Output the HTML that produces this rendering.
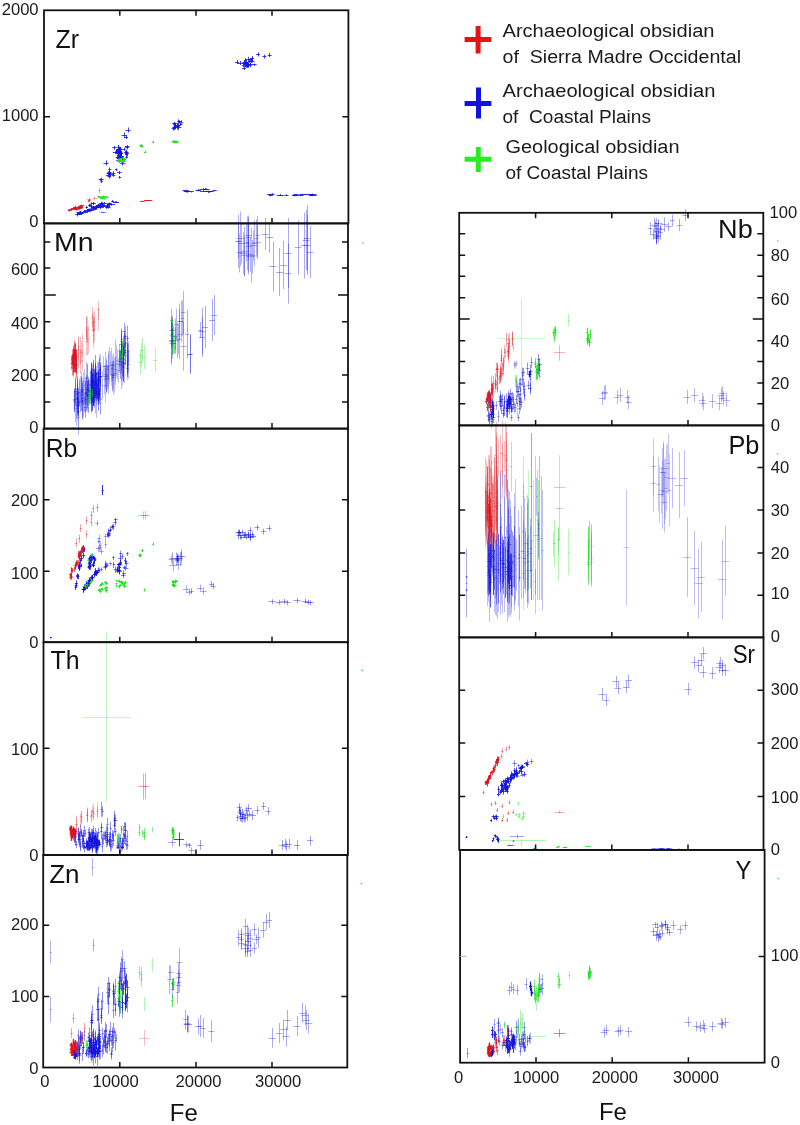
<!DOCTYPE html><html><head><meta charset="utf-8"><style>html,body{margin:0;padding:0;background:#fff;width:800px;height:1125px;overflow:hidden}svg{display:block;will-change:transform}</style></head><body>
<svg width="800" height="1125" viewBox="0 0 800 1125">
<rect width="800" height="1125" fill="#fff"/>
<g fill="none" stroke="#1414dc" stroke-opacity="0.9" stroke-width="0.9"><path d="M90.9 207.5h4.6M93.5 206.4v2.3"/><path d="M98.3 207.5h5.2M100.5 206.4v2.8"/><path d="M77.7 212.5h5.8M80.5 211.1v2.6"/><path d="M78.3 212.5h5.3M80.5 211.1v2.5"/><path d="M82.8 211.5h3.2M84.5 210.6v1.8"/><path d="M85.4 210.5h4.5M87.5 209.2v2.9"/><path d="M94.4 206.5h5.3M97.5 205.6v2.2"/><path d="M88.1 210.5h5.9M91.5 208.7v2.6"/><path d="M88.1 210.5h3.2M89.5 209.1v2.7"/><path d="M90.3 208.5h6.4M93.5 206.6v2.9"/><path d="M75.2 214.5h4.6M77.5 213.4v3.1"/><path d="M91.2 209.5h5.7M94.5 208.4v1.9"/><path d="M76.5 214.5h5.7M79.5 213.3v1.6"/><path d="M84.2 210.5h5.8M87.5 209.7v1.7"/><path d="M96.0 207.5h5.6M98.5 206.5v1.7"/><path d="M101.6 206.5h3.7M103.5 205.9v1.9"/><path d="M113.0 202.5h6.1M116.5 201.2v1.8"/><path d="M91.9 207.5h3.4M93.5 206.3v3.1"/><path d="M83.4 212.5h4.2M85.5 211.3v1.9"/><path d="M79.0 212.5h3.9M80.5 211.6v2.5"/><path d="M87.3 209.5h4.7M89.5 208.6v2.4"/><path d="M108.8 204.5h6.2M111.5 203.0v2.8"/><path d="M84.4 211.5h6.3M87.5 210.9v1.8"/><path d="M113.7 202.5h4.5M115.5 201.4v1.6"/><path d="M76.5 212.5h5.5M79.5 211.5v1.9"/><path d="M107.5 203.5h3.6M109.5 202.6v2.7"/><path d="M76.9 213.5h6.0M79.5 212.2v2.5"/><path d="M87.2 209.5h3.1M88.5 208.8v1.9"/><path d="M93.2 208.5h4.3M95.5 207.3v2.4"/><path d="M77.8 213.5h6.4M81.5 211.8v2.5"/><path d="M102.7 205.5h3.1M104.5 204.8v1.5"/><path d="M111.2 201.5h3.1M112.5 200.0v2.5"/><path d="M92.9 207.5h6.5M96.5 206.4v1.6"/><path d="M95.9 205.5h5.6M98.5 204.0v2.6"/><path d="M106.8 204.5h5.4M109.5 202.8v3.0"/><path d="M105.5 205.5h4.6M107.5 203.5v3.1"/><path d="M98.6 206.5h3.5M100.5 204.8v2.6"/><path d="M99.1 203.5h4.2M101.5 201.7v3.4"/><path d="M106.3 206.5h3.5M107.5 205.2v2.9"/><path d="M98.2 205.5h4.7M100.5 204.3v1.7"/><path d="M102.7 203.5h4.1M104.5 201.9v2.4"/><path d="M89.9 206.5h3.8M91.5 205.2v2.7"/><path d="M107.8 204.5h2.4M109.5 203.2v2.1"/><path d="M101.5 204.5h2.9M102.5 202.4v3.2"/><path d="M100.1 205.5h4.9M102.5 204.1v2.2"/><path d="M100.8 203.5h3.6M102.5 202.5v3.0"/><path d="M107.1 207.5h3.5M108.5 206.1v2.6"/><path d="M92.0 203.5h3.8M93.5 202.1v3.1"/><path d="M104.7 206.5h5.1M107.5 205.5v2.1"/><path d="M88.6 205.5h3.2M90.5 204.3v1.9"/><path d="M94.5 206.5h3.8M96.5 205.1v2.1"/><path d="M105.1 207.5h3.7M106.5 207.1v1.7"/><path d="M85.5 207.5h2.5M86.5 205.9v2.8"/><path d="M98.0 204.5h4.6M100.5 203.7v1.6"/><path d="M88.2 205.5h2.5M89.5 203.7v3.1"/><path d="M90.7 203.5h2.5M91.5 202.4v2.7"/><path d="M95.0 206.5h4.2M97.5 204.6v3.0"/></g>
<g fill="none" stroke="#e0141e" stroke-opacity="0.9" stroke-width="0.9"><path d="M79.6 205.5h4.7M81.5 205.1v1.7"/><path d="M67.6 210.5h3.6M69.5 209.8v1.9"/><path d="M71.8 208.5h5.2M74.5 206.8v2.7"/><path d="M74.1 207.5h3.3M75.5 205.7v3.0"/><path d="M77.3 208.5h5.2M79.5 206.7v3.0"/><path d="M70.7 208.5h5.8M73.5 206.8v3.0"/><path d="M73.1 208.5h5.5M75.5 206.8v2.8"/><path d="M75.1 207.5h6.1M78.5 205.8v3.1"/><path d="M79.0 206.5h4.1M81.5 204.6v3.0"/><path d="M78.5 207.5h4.5M80.5 206.0v2.4"/><path d="M76.8 207.5h5.8M79.5 206.5v1.5"/><path d="M77.7 207.5h5.8M80.5 207.0v1.7"/><path d="M68.1 209.5h5.9M71.5 208.5v2.6"/><path d="M78.4 206.5h3.3M80.5 205.7v1.8"/><path d="M74.0 209.5h5.2M76.5 208.4v2.3"/><path d="M78.0 206.5h4.3M80.5 205.3v2.9"/></g>
<g fill="none" stroke="#e0141e" stroke-opacity="0.5" stroke-width="0.7"><path d="M92.2 198.5h4.8M94.5 196.3v3.8"/><path d="M87.9 200.5h3.0M89.5 199.0v2.9"/><path d="M87.8 200.5h2.5M89.5 198.7v3.8"/><path d="M86.9 199.5h4.6M89.5 197.9v3.0"/><path d="M87.6 201.5h2.6M88.5 199.7v2.9"/></g>
<g fill="none" stroke="#20e020" stroke-opacity="0.9" stroke-width="0.9"><path d="M100.0 198.5h5.0M102.5 197.5v1.9"/><path d="M101.2 196.5h3.6M103.5 195.3v2.8"/><path d="M105.4 197.5h3.3M107.5 196.6v1.8"/><path d="M103.0 198.5h2.8M104.5 197.0v2.7"/><path d="M97.3 196.5h3.0M98.5 195.6v2.6"/><path d="M99.6 197.5h4.1M101.5 196.4v1.6"/><path d="M103.6 196.5h3.8M105.5 195.8v1.9"/><path d="M98.6 197.5h3.6M100.5 196.5v2.1"/></g>
<g fill="none" stroke="#1414dc" stroke-opacity="0.4" stroke-width="0.7"><path d="M99.2 212.5h4.3M101.5 211.7v0.7"/><path d="M100.9 212.5h5.8M103.5 211.5v1.2"/><path d="M101.3 212.5h4.6M103.5 211.8v1.1"/><path d="M98.1 190.5h3.0M99.5 187.7v6.0"/></g>
<g fill="none" stroke="#1414dc" stroke-opacity="0.9" stroke-width="0.9"><path d="M100.4 181.5h2.5M101.5 180.5v2.5"/><path d="M99.9 179.5h3.9M101.5 177.8v3.7"/><path d="M98.6 179.5h3.3M100.5 178.5v2.3"/><path d="M103.5 163.5h5.0M106.5 160.5v5.0"/><path d="M107.4 176.5h3.6M109.5 174.0v4.6"/><path d="M107.4 172.5h4.3M109.5 170.8v2.4"/><path d="M107.9 174.5h5.0M110.5 172.3v5.1"/><path d="M107.1 173.5h4.5M109.5 171.2v3.8"/><path d="M114.9 169.5h2.6M116.5 168.5v2.7"/><path d="M106.5 173.5h3.8M108.5 171.5v4.0"/><path d="M108.3 169.5h3.0M109.5 167.5v4.8"/><path d="M118.6 177.5h2.7M119.5 176.0v2.6"/><path d="M117.1 172.5h4.5M119.5 171.0v3.3"/><path d="M111.8 173.5h3.6M113.5 171.1v4.1"/><path d="M105.8 175.5h4.8M108.5 173.6v2.9"/><path d="M111.7 175.5h3.5M113.5 173.9v2.9"/></g>
<g fill="none" stroke="#1414dc" stroke-opacity="0.95" stroke-width="1.2"><path d="M116.1 151.5h1.8M116.5 149.2v4.9"/><path d="M119.0 153.5h3.6M120.5 151.3v4.2"/><path d="M117.0 152.5h2.9M118.5 149.8v5.2"/><path d="M119.0 149.5h3.7M120.5 147.1v4.5"/><path d="M119.3 154.5h2.7M120.5 151.9v4.9"/><path d="M119.6 153.5h3.4M121.5 151.0v4.5"/><path d="M117.5 153.5h1.9M118.5 151.8v3.4"/><path d="M117.5 147.5h2.5M118.5 145.0v4.2"/><path d="M117.9 149.5h3.8M119.5 147.0v4.3"/><path d="M116.5 152.5h3.0M118.5 151.0v3.9"/><path d="M116.8 155.5h3.1M118.5 153.8v4.4"/><path d="M119.6 155.5h1.8M120.5 153.8v4.1"/><path d="M119.1 149.5h2.6M120.5 148.0v2.5"/><path d="M116.2 150.5h2.0M117.5 148.8v3.1"/></g>
<g fill="none" stroke="#1414dc" stroke-opacity="0.9" stroke-width="0.9"><path d="M124.8 152.5h3.8M126.5 149.5v5.1"/><path d="M119.9 156.5h4.2M121.5 154.6v4.7"/><path d="M112.8 152.5h4.5M115.5 151.3v2.5"/><path d="M125.2 147.5h3.7M127.5 146.3v2.9"/><path d="M119.7 152.5h2.6M120.5 150.2v5.0"/><path d="M117.9 151.5h4.1M119.5 150.1v3.4"/><path d="M116.0 153.5h4.0M118.5 151.6v3.2"/><path d="M122.8 149.5h2.4M124.5 147.7v3.1"/><path d="M112.3 147.5h4.5M114.5 146.0v3.5"/><path d="M125.3 154.5h2.5M126.5 151.6v5.2"/><path d="M124.8 146.5h4.9M127.5 145.0v3.6"/><path d="M119.1 156.5h3.1M120.5 154.8v3.9"/><path d="M125.3 153.5h3.7M127.5 151.4v5.1"/><path d="M124.1 152.5h2.7M125.5 150.6v4.1"/><path d="M120.7 158.5h2.5M122.5 157.0v2.9"/><path d="M116.2 160.5h4.3M118.5 158.7v2.8"/><path d="M118.1 161.5h3.6M119.5 159.4v3.4"/><path d="M120.3 163.5h5.1M122.5 162.3v3.3"/><path d="M117.2 157.5h4.9M119.5 156.1v3.4"/><path d="M122.3 159.5h3.2M123.5 157.9v3.2"/><path d="M121.1 161.5h4.2M123.5 159.5v3.4"/><path d="M116.5 158.5h5.1M119.5 156.9v3.7"/><path d="M125.4 157.5h2.6M126.5 156.1v2.4"/><path d="M120.3 161.5h2.7M121.5 159.9v2.9"/><path d="M115.7 157.5h4.3M117.5 156.1v3.0"/><path d="M122.1 159.5h3.7M123.5 158.5v2.2"/></g>
<g fill="none" stroke="#20e020" stroke-opacity="0.9" stroke-width="0.9"><path d="M118.7 160.5h4.7M121.5 160.2v1.6"/><path d="M117.0 161.5h4.1M119.5 159.9v2.7"/><path d="M118.4 159.5h3.1M119.5 158.3v2.8"/><path d="M118.7 160.5h5.2M121.5 159.6v2.0"/><path d="M120.4 160.5h5.0M122.5 159.9v2.2"/><path d="M118.9 158.5h4.9M121.5 157.6v1.6"/><path d="M116.9 160.5h3.8M118.5 159.0v2.6"/><path d="M119.4 161.5h2.6M120.5 160.2v1.8"/><path d="M122.3 158.5h3.3M123.5 157.0v2.7"/><path d="M122.8 159.5h2.8M124.5 158.1v2.0"/><path d="M123.2 159.5h2.7M124.5 158.1v2.6"/><path d="M120.6 161.5h5.0M123.5 160.2v3.0"/><path d="M120.3 161.5h3.3M121.5 160.2v2.0"/><path d="M119.1 161.5h4.9M121.5 160.8v1.9"/></g>
<g fill="none" stroke="#1414dc" stroke-opacity="0.9" stroke-width="0.9"><path d="M121.5 135.5h5.0M124.5 132.5v5.0"/><path d="M125.5 130.5h5.0M128.5 127.5v5.0"/><path d="M124.0 137.5h4.0M126.5 135.0v4.0"/></g>
<g fill="none" stroke="#20e020" stroke-opacity="0.9" stroke-width="0.9"><path d="M139.7 145.5h2.6M140.5 144.7v2.1"/><path d="M139.6 145.5h3.0M141.5 144.0v2.8"/><path d="M140.2 146.5h3.0M141.5 145.8v1.7"/><path d="M141.3 146.5h2.4M142.5 146.0v1.5"/></g>
<g fill="none" stroke="#20e020" stroke-opacity="0.9" stroke-width="1.0"><path d="M143.8 152.5h2.4M145.5 150.8v2.4"/><path d="M151.8 142.5h2.4M153.5 140.8v2.4"/></g>
<g fill="none" stroke="#1414dc" stroke-opacity="0.9" stroke-width="0.9"><path d="M173.7 125.5h4.0M175.5 122.8v5.1"/><path d="M175.9 127.5h2.6M177.5 125.5v3.9"/><path d="M177.4 121.5h2.6M178.5 119.4v4.5"/><path d="M177.8 121.5h4.2M179.5 120.3v2.8"/><path d="M176.7 126.5h3.1M178.5 124.7v3.0"/><path d="M176.1 125.5h4.5M178.5 123.4v3.5"/><path d="M171.6 128.5h4.3M173.5 126.9v3.8"/><path d="M173.7 126.5h4.4M175.5 124.3v5.0"/><path d="M172.4 127.5h4.3M174.5 125.2v4.8"/><path d="M176.4 127.5h4.9M178.5 125.1v5.1"/><path d="M174.8 125.5h4.4M177.5 122.9v4.6"/><path d="M173.2 124.5h2.8M174.5 122.1v4.5"/><path d="M179.5 124.5h2.9M180.5 122.5v3.0"/><path d="M172.1 123.5h5.1M174.5 122.1v2.6"/></g>
<g fill="none" stroke="#1414dc" stroke-opacity="0.8" stroke-width="0.8"><path d="M178.5 122.5h5.0M181.5 120.0v4.0"/></g>
<g fill="none" stroke="#20e020" stroke-opacity="0.9" stroke-width="0.9"><path d="M172.4 141.5h3.2M174.5 140.4v2.7"/><path d="M171.8 141.5h2.8M173.5 140.4v2.4"/><path d="M176.9 141.5h2.0M177.5 140.7v1.8"/><path d="M171.8 141.5h3.3M173.5 140.8v2.4"/><path d="M172.3 141.5h2.4M173.5 141.0v1.7"/><path d="M175.4 142.5h3.0M176.5 140.7v2.8"/><path d="M173.3 142.5h3.7M175.5 140.5v3.0"/></g>
<g fill="none" stroke="#1414dc" stroke-opacity="0.9" stroke-width="0.9"><path d="M183.6 191.5h6.3M186.5 191.0v1.5"/><path d="M182.6 190.5h6.3M185.5 189.9v1.9"/><path d="M184.7 191.5h4.8M187.5 191.1v1.3"/><path d="M190.0 191.5h3.8M191.5 191.5v1.0"/><path d="M184.9 191.5h5.8M187.5 190.5v1.8"/><path d="M195.5 190.5h5.0M198.5 189.2v1.6"/></g>
<g fill="none" stroke="#e0141e" stroke-opacity="0.9" stroke-width="0.9"><path d="M144.1 200.5h3.5M145.5 200.3v0.7"/><path d="M139.8 201.5h4.8M142.5 200.6v0.8"/><path d="M147.5 200.5h4.9M149.5 200.4v0.6"/><path d="M144.7 200.5h5.9M147.5 200.0v1.0"/><path d="M146.2 200.5h3.9M148.5 200.1v0.9"/></g>
<g fill="none" stroke="#1414dc" stroke-opacity="0.9" stroke-width="0.9"><path d="M242.3 62.5h3.7M244.5 59.8v5.1"/><path d="M248.4 65.5h3.3M250.5 62.7v4.6"/><path d="M246.7 65.5h2.7M248.5 63.1v4.7"/><path d="M243.6 62.5h3.9M245.5 61.4v2.8"/><path d="M251.3 61.5h3.3M252.5 59.9v2.6"/><path d="M244.5 62.5h4.4M246.5 60.6v3.4"/><path d="M249.5 59.5h3.5M251.5 57.9v3.7"/><path d="M252.5 64.5h4.2M254.5 63.6v2.4"/><path d="M246.0 63.5h3.1M247.5 62.0v4.0"/><path d="M245.9 59.5h5.2M248.5 56.8v4.6"/><path d="M243.9 63.5h3.2M245.5 61.6v3.5"/><path d="M247.8 61.5h3.3M249.5 59.3v3.5"/><path d="M249.5 60.5h3.0M251.5 58.6v4.4"/><path d="M245.0 65.5h4.0M246.5 63.4v4.4"/><path d="M245.7 64.5h2.7M246.5 63.4v2.8"/><path d="M241.9 63.5h4.4M244.5 62.3v2.9"/><path d="M245.8 64.5h4.1M247.5 63.5v2.7"/><path d="M244.3 60.5h2.7M245.5 58.3v3.5"/><path d="M242.1 65.5h3.6M243.5 63.5v3.8"/><path d="M248.4 64.5h4.7M250.5 62.6v3.5"/><path d="M235.0 62.5h4.0M237.5 60.0v4.0"/><path d="M238.0 63.5h4.0M240.5 61.0v4.0"/><path d="M256.0 54.5h4.0M258.5 52.4v4.0"/><path d="M262.4 56.5h4.0M264.5 54.6v4.0"/><path d="M267.6 55.5h4.0M269.5 53.0v4.0"/><path d="M250.0 58.5h4.0M252.5 56.0v4.0"/><path d="M245.0 66.5h4.0M247.5 64.0v4.0"/><path d="M242.0 68.5h4.0M244.5 66.0v4.0"/><path d="M196.8 190.5h3.7M198.5 189.4v1.8"/><path d="M204.7 191.5h6.9M208.5 190.9v2.1"/><path d="M203.3 189.5h5.0M205.5 188.2v1.7"/><path d="M204.3 189.5h5.2M206.5 188.4v1.9"/><path d="M207.4 191.5h6.2M210.5 190.8v1.4"/><path d="M207.0 191.5h5.9M209.5 190.9v1.7"/><path d="M199.7 189.5h6.6M203.5 188.1v2.6"/><path d="M199.9 191.5h7.1M203.5 190.4v1.5"/><path d="M212.4 190.5h4.4M214.5 190.2v1.3"/><path d="M276.7 195.5h6.5M280.5 194.5v1.3"/><path d="M308.0 194.5h5.5M310.5 194.2v1.1"/><path d="M309.1 194.5h7.4M312.5 193.6v1.6"/><path d="M291.9 195.5h4.7M294.5 194.1v2.0"/><path d="M310.6 195.5h6.1M313.5 195.0v1.1"/><path d="M302.4 194.5h7.4M306.5 194.0v1.2"/><path d="M292.6 195.5h4.4M294.5 194.7v1.6"/><path d="M270.3 194.5h4.4M272.5 193.2v2.1"/><path d="M308.8 195.5h4.9M311.5 194.4v1.7"/><path d="M299.2 194.5h6.1M302.5 193.9v1.9"/><path d="M267.0 194.5h5.6M269.5 194.0v1.1"/><path d="M284.2 195.5h4.3M286.5 194.3v1.5"/><path d="M278.4 195.5h5.0M280.5 194.3v1.7"/><path d="M268.6 195.5h4.2M270.5 194.3v2.0"/><path d="M293.3 194.5h5.3M296.5 194.1v1.7"/><path d="M296.6 195.5h6.8M300.5 194.7v1.5"/></g>
<g fill="none" stroke="#1414dc" stroke-opacity="0.8" stroke-width="1.0"><path d="M50.0 223.5h3.0M51.5 222.5v1.0"/></g>
<g fill="none" stroke="#1414dc" stroke-opacity="0.35" stroke-width="0.8"><path d="M127.4 364.5h2.5M128.5 350.1v28.7"/><path d="M103.6 366.5h3.4M105.5 351.6v30.5"/><path d="M101.9 366.5h2.4M103.5 356.3v21.1"/><path d="M112.3 375.5h3.4M114.5 358.0v34.6"/><path d="M105.6 375.5h2.9M107.5 364.9v21.4"/><path d="M80.0 391.5h2.6M81.5 376.0v30.1"/><path d="M94.7 393.5h2.7M96.5 380.7v24.8"/><path d="M89.9 391.5h2.5M91.5 378.9v24.7"/><path d="M76.7 411.5h3.0M78.5 393.2v37.3"/><path d="M95.8 374.5h3.2M97.5 362.7v24.4"/><path d="M114.2 357.5h2.0M115.5 339.3v35.8"/><path d="M79.9 390.5h2.8M81.5 371.4v39.0"/><path d="M73.3 401.5h2.4M74.5 391.1v21.3"/><path d="M121.7 367.5h3.3M123.5 353.7v27.9"/><path d="M93.0 384.5h1.9M93.5 365.5v38.0"/><path d="M89.9 387.5h2.7M91.5 367.9v38.7"/><path d="M126.6 354.5h2.3M127.5 335.7v38.5"/><path d="M122.3 363.5h2.2M123.5 344.8v36.8"/><path d="M92.1 382.5h3.4M93.5 362.6v39.9"/><path d="M84.0 393.5h2.9M85.5 381.5v23.8"/><path d="M120.9 365.5h3.1M122.5 352.8v26.3"/><path d="M121.9 363.5h3.4M123.5 346.1v34.3"/><path d="M80.6 391.5h2.6M81.5 380.2v21.6"/><path d="M85.5 378.5h2.4M86.5 361.4v34.2"/><path d="M83.7 394.5h3.0M85.5 377.0v35.8"/><path d="M93.3 389.5h3.0M94.5 370.5v37.7"/><path d="M104.9 376.5h3.5M106.5 359.9v33.3"/><path d="M88.1 394.5h3.0M89.5 383.7v21.8"/><path d="M126.7 351.5h2.8M128.5 341.4v20.9"/><path d="M106.0 378.5h2.3M107.5 365.6v25.0"/><path d="M116.7 370.5h3.2M118.5 358.3v24.9"/><path d="M88.3 391.5h2.8M89.5 380.1v23.7"/><path d="M122.1 364.5h2.6M123.5 346.5v35.0"/><path d="M93.7 384.5h3.5M95.5 369.7v30.0"/><path d="M83.1 385.5h2.4M84.5 369.1v33.2"/><path d="M115.8 364.5h2.7M117.5 349.4v30.1"/><path d="M118.8 361.5h3.5M120.5 350.1v23.5"/><path d="M115.9 360.5h2.1M116.5 344.9v32.2"/><path d="M85.7 381.5h3.2M87.5 363.8v35.8"/><path d="M86.0 395.5h2.7M87.5 382.9v24.4"/><path d="M104.7 374.5h2.9M106.5 357.6v34.3"/><path d="M104.0 376.5h3.4M105.5 364.8v23.6"/><path d="M81.5 401.5h2.6M82.5 387.5v28.8"/><path d="M87.2 390.5h3.2M88.5 380.2v21.5"/><path d="M122.3 355.5h3.2M123.5 342.8v24.8"/><path d="M81.3 392.5h2.4M82.5 381.7v20.8"/><path d="M90.5 382.5h2.3M91.5 366.7v31.8"/><path d="M77.7 392.5h3.3M79.5 381.0v23.4"/><path d="M86.7 395.5h3.3M88.5 377.6v35.7"/><path d="M76.6 406.5h2.5M77.5 393.0v27.3"/><path d="M85.0 393.5h2.7M86.5 376.3v35.2"/><path d="M127.2 358.5h2.1M128.5 343.7v29.1"/><path d="M113.4 373.5h3.4M115.5 362.0v22.8"/><path d="M94.7 385.5h2.3M95.5 371.3v28.5"/><path d="M77.1 417.5h3.2M78.5 400.5v34.7"/><path d="M85.9 395.5h2.3M87.5 380.3v31.0"/><path d="M86.4 377.5h2.5M87.5 364.2v26.7"/><path d="M126.5 362.5h2.9M127.5 351.8v20.8"/><path d="M95.3 382.5h2.4M96.5 365.9v33.9"/><path d="M120.2 362.5h2.9M121.5 343.4v37.7"/><path d="M98.5 372.5h2.5M99.5 354.6v35.6"/><path d="M85.0 399.5h2.4M86.5 387.6v23.7"/><path d="M103.4 379.5h2.2M104.5 365.0v29.4"/><path d="M90.0 391.5h2.6M91.5 371.7v39.9"/><path d="M110.3 374.5h2.5M111.5 363.9v21.5"/><path d="M111.0 368.5h2.5M112.5 355.6v25.5"/><path d="M74.3 402.5h2.5M75.5 383.5v38.5"/><path d="M112.3 374.5h2.3M113.5 361.1v27.2"/><path d="M81.3 400.5h3.2M82.5 382.9v34.5"/><path d="M123.0 359.5h1.8M123.5 346.6v26.4"/><path d="M94.3 395.5h2.4M95.5 377.9v35.4"/><path d="M101.9 385.5h1.9M102.5 371.2v27.9"/><path d="M86.1 394.5h2.9M87.5 384.2v20.6"/><path d="M90.2 388.5h2.6M91.5 373.4v30.9"/><path d="M80.4 394.5h3.1M81.5 377.8v33.3"/><path d="M81.4 390.5h2.2M82.5 377.9v25.6"/><path d="M111.7 365.5h3.4M113.5 353.4v24.5"/><path d="M89.2 392.5h2.4M90.5 380.0v24.3"/><path d="M75.3 408.5h2.8M76.5 390.1v36.2"/><path d="M126.5 360.5h2.3M127.5 343.7v33.4"/><path d="M123.1 363.5h3.0M124.5 343.9v39.1"/><path d="M120.7 372.5h2.2M121.5 356.4v32.7"/><path d="M78.4 392.5h1.9M79.5 378.5v27.7"/><path d="M91.0 389.5h2.7M92.5 377.1v25.6"/><path d="M82.1 389.5h2.1M83.5 372.5v33.3"/><path d="M86.6 395.5h2.0M87.5 381.6v26.8"/><path d="M96.0 387.5h3.1M97.5 372.3v31.1"/><path d="M111.7 377.5h1.8M112.5 363.6v27.8"/><path d="M93.4 391.5h1.9M94.5 376.4v29.9"/><path d="M105.1 378.5h2.6M106.5 365.2v26.5"/><path d="M86.6 396.5h3.4M88.5 380.4v31.3"/><path d="M87.3 390.5h3.0M88.5 379.1v23.7"/><path d="M98.8 369.5h2.5M100.5 354.2v31.5"/><path d="M124.3 350.5h3.2M125.5 334.4v32.5"/><path d="M107.2 369.5h2.3M108.5 351.0v36.6"/><path d="M121.2 366.5h2.5M122.5 347.4v38.2"/><path d="M75.4 404.5h2.4M76.5 391.0v27.2"/><path d="M126.7 364.5h2.1M127.5 352.5v23.8"/><path d="M86.1 389.5h1.8M86.5 374.3v30.9"/><path d="M94.9 380.5h2.2M95.5 365.5v29.9"/><path d="M108.5 365.5h2.8M109.5 346.9v36.6"/><path d="M126.1 356.5h2.4M127.5 343.4v26.9"/><path d="M121.3 359.5h3.1M122.5 342.4v33.7"/><path d="M125.4 368.5h3.3M127.5 356.8v23.2"/><path d="M107.1 366.5h2.5M108.5 353.9v25.7"/><path d="M113.9 369.5h2.8M115.5 357.0v24.7"/><path d="M86.7 389.5h2.7M88.5 377.8v22.5"/><path d="M77.0 402.5h1.9M77.5 391.2v22.0"/><path d="M111.3 375.5h3.2M112.5 361.1v29.6"/><path d="M81.7 398.5h3.4M83.5 380.1v37.4"/><path d="M75.8 399.5h3.2M77.5 385.2v27.8"/><path d="M112.4 377.5h2.3M113.5 360.4v34.3"/><path d="M90.7 382.5h3.3M92.5 364.0v36.6"/><path d="M104.1 385.5h2.6M105.5 368.5v34.1"/><path d="M107.4 379.5h2.0M108.5 365.9v27.5"/><path d="M109.9 362.5h2.2M110.5 351.2v23.7"/><path d="M73.5 388.5h3.5M75.5 377.4v22.7"/><path d="M110.7 364.5h2.6M111.5 348.0v32.6"/><path d="M95.2 400.5h1.9M96.5 383.6v34.3"/><path d="M80.0 389.5h1.9M80.5 376.3v25.7"/></g>
<g fill="none" stroke="#1414dc" stroke-opacity="0.5" stroke-width="0.8"><path d="M81.7 409.5h2.1M82.5 399.9v20.0"/><path d="M72.9 399.5h2.8M74.5 389.7v20.5"/><path d="M75.9 405.5h3.6M77.5 395.9v19.4"/><path d="M77.0 401.5h3.4M78.5 387.7v27.8"/><path d="M77.2 403.5h2.9M78.5 390.5v25.6"/><path d="M74.8 391.5h2.0M75.5 378.3v27.2"/><path d="M76.0 398.5h2.1M77.5 388.8v19.9"/><path d="M73.2 400.5h2.1M74.5 388.7v23.5"/><path d="M75.9 393.5h2.8M77.5 382.8v20.4"/><path d="M76.1 389.5h1.9M77.5 375.8v26.7"/><path d="M76.6 389.5h2.2M77.5 378.8v21.8"/><path d="M84.2 392.5h3.6M85.5 381.5v21.8"/><path d="M77.7 405.5h2.6M78.5 397.4v16.7"/><path d="M79.1 402.5h3.1M80.5 392.8v19.3"/><path d="M83.3 407.5h3.9M85.5 396.4v21.3"/><path d="M82.9 403.5h2.2M84.5 395.8v16.3"/></g>
<g fill="none" stroke="#1414dc" stroke-opacity="0.55" stroke-width="0.9"><path d="M90.9 373.5h2.0M91.5 362.7v21.7"/><path d="M96.8 379.5h2.9M98.5 371.2v16.2"/><path d="M91.4 398.5h1.8M92.5 386.6v24.4"/><path d="M97.2 393.5h3.3M98.5 382.6v22.4"/><path d="M97.1 394.5h3.4M98.5 378.9v31.8"/><path d="M89.8 398.5h2.6M91.5 384.9v27.3"/><path d="M91.8 397.5h1.8M92.5 384.7v25.2"/><path d="M91.2 381.5h2.6M92.5 368.4v26.5"/><path d="M97.3 380.5h3.1M98.5 370.1v21.7"/><path d="M91.8 397.5h2.5M93.5 388.4v17.5"/><path d="M92.6 392.5h2.2M93.5 378.3v27.9"/><path d="M94.9 390.5h2.2M96.5 381.6v17.7"/><path d="M90.2 380.5h2.7M91.5 372.4v16.2"/><path d="M94.3 382.5h2.5M95.5 369.8v24.6"/><path d="M98.7 376.5h3.6M100.5 365.6v21.1"/><path d="M96.4 373.5h3.9M98.5 361.8v22.9"/><path d="M99.3 376.5h2.7M100.5 362.9v27.3"/><path d="M90.3 378.5h3.2M91.5 362.6v31.2"/><path d="M92.3 375.5h2.6M93.5 359.6v31.8"/><path d="M90.3 389.5h2.6M91.5 375.9v26.3"/><path d="M90.5 388.5h3.7M92.5 373.6v29.7"/><path d="M95.4 385.5h3.0M96.5 376.2v17.8"/><path d="M97.8 390.5h2.8M99.5 377.4v26.6"/><path d="M93.5 381.5h2.3M94.5 368.7v25.6"/><path d="M95.4 385.5h1.9M96.5 372.4v26.0"/><path d="M93.4 387.5h3.0M94.5 372.3v30.9"/><path d="M89.7 384.5h3.9M91.5 370.2v27.8"/><path d="M91.5 392.5h3.9M93.5 380.9v22.4"/></g>
<g fill="none" stroke="#1414dc" stroke-opacity="0.8" stroke-width="1.2"><path d="M97.5 377.5h2.6M98.5 372.3v11.3"/><path d="M92.1 394.5h2.1M93.5 386.8v15.1"/><path d="M97.5 393.5h1.9M98.5 385.6v15.5"/><path d="M90.5 395.5h2.2M91.5 390.4v9.3"/><path d="M97.3 385.5h2.0M98.5 378.2v14.5"/><path d="M91.7 381.5h2.1M92.5 377.5v7.8"/><path d="M95.1 393.5h1.9M95.5 388.5v9.2"/><path d="M97.1 394.5h2.3M98.5 388.8v11.8"/><path d="M98.4 393.5h1.4M99.5 388.2v10.3"/><path d="M91.1 375.5h1.7M91.5 368.6v14.5"/></g>
<g fill="none" stroke="#20e020" stroke-opacity="0.6" stroke-width="1.0"><path d="M121.1 347.5h1.7M122.5 341.7v12.3"/><path d="M120.6 355.5h3.0M122.5 350.7v10.4"/><path d="M121.2 349.5h2.5M122.5 341.7v15.3"/><path d="M120.4 349.5h2.6M121.5 342.9v12.6"/><path d="M118.6 351.5h2.0M119.5 344.5v13.8"/><path d="M119.0 355.5h2.6M120.5 350.1v11.1"/><path d="M118.8 357.5h2.2M119.5 351.7v10.8"/><path d="M118.6 361.5h2.5M119.5 355.0v12.1"/></g>
<g fill="none" stroke="#1414dc" stroke-opacity="0.5" stroke-width="0.8"><path d="M118.5 364.5h3.3M120.5 350.9v27.8"/><path d="M120.6 339.5h2.7M121.5 330.3v18.3"/><path d="M123.2 343.5h3.5M124.5 332.4v22.5"/><path d="M121.1 346.5h3.8M123.5 336.0v21.5"/><path d="M124.2 336.5h3.0M125.5 326.4v20.6"/><path d="M125.8 338.5h3.6M127.5 325.2v26.8"/><path d="M121.7 362.5h2.6M123.5 348.6v27.9"/><path d="M123.6 344.5h1.9M124.5 333.2v22.7"/><path d="M119.2 344.5h3.8M121.5 334.0v20.7"/><path d="M124.5 352.5h2.3M125.5 341.6v22.6"/><path d="M118.3 361.5h2.3M119.5 349.8v22.7"/><path d="M120.0 358.5h3.6M121.5 345.6v25.5"/><path d="M122.2 331.5h3.7M124.5 323.0v17.4"/><path d="M120.3 341.5h3.3M121.5 328.5v26.7"/></g>
<g fill="none" stroke="#1414dc" stroke-opacity="0.5" stroke-width="0.9"><path d="M92.3 396.5h3.0M93.5 388.8v16.4"/><path d="M95.9 384.5h2.0M96.5 372.4v23.4"/><path d="M92.2 390.5h2.5M93.5 374.4v31.5"/><path d="M99.7 399.5h2.1M100.5 385.1v29.3"/><path d="M95.6 391.5h3.1M97.5 382.5v17.1"/><path d="M93.8 382.5h2.5M95.5 372.3v19.5"/><path d="M99.9 376.5h2.1M100.5 367.1v18.3"/><path d="M93.6 392.5h1.6M94.5 382.9v18.7"/><path d="M95.8 388.5h2.7M97.5 378.7v20.1"/><path d="M97.6 391.5h2.7M98.5 383.0v17.9"/><path d="M93.7 370.5h2.9M95.5 354.9v31.1"/><path d="M98.8 370.5h2.0M99.5 358.4v24.6"/><path d="M94.5 373.5h2.8M95.5 362.9v20.8"/><path d="M94.4 373.5h2.4M95.5 364.7v18.1"/><path d="M90.0 385.5h1.9M90.5 371.1v28.4"/><path d="M91.9 382.5h1.5M92.5 372.7v19.5"/></g>
<g fill="none" stroke="#20e020" stroke-opacity="0.5" stroke-width="0.9"><path d="M88.9 395.5h2.8M90.5 388.2v14.3"/><path d="M87.9 399.5h2.1M88.5 392.1v15.4"/><path d="M89.0 393.5h3.1M90.5 385.9v14.5"/><path d="M91.3 393.5h1.8M92.5 389.0v8.5"/></g>
<g fill="none" stroke="#e0141e" stroke-opacity="0.55" stroke-width="0.9"><path d="M74.5 366.5h2.9M75.5 361.0v11.3"/><path d="M73.6 349.5h1.8M74.5 343.5v12.4"/><path d="M75.1 364.5h3.1M76.5 359.2v10.4"/><path d="M72.9 350.5h2.0M73.5 345.4v10.9"/><path d="M75.2 356.5h2.4M76.5 349.3v15.2"/><path d="M74.9 371.5h2.6M76.5 364.7v14.0"/><path d="M75.3 358.5h2.1M76.5 350.5v15.9"/><path d="M71.9 357.5h2.3M73.5 350.9v13.8"/><path d="M72.4 359.5h2.4M73.5 354.1v10.4"/><path d="M74.7 350.5h2.5M75.5 343.3v14.4"/><path d="M72.9 354.5h1.7M73.5 347.9v13.0"/><path d="M72.4 360.5h2.0M73.5 352.6v16.0"/><path d="M73.1 349.5h2.3M74.5 340.3v17.7"/><path d="M70.2 363.5h3.3M71.5 356.8v12.9"/><path d="M73.7 357.5h2.1M74.5 350.4v14.9"/><path d="M73.5 356.5h2.5M74.5 349.5v14.1"/><path d="M74.7 350.5h1.7M75.5 344.3v12.0"/><path d="M72.0 368.5h2.3M73.5 359.7v16.9"/><path d="M72.4 355.5h2.8M73.5 350.5v10.7"/><path d="M75.6 368.5h2.2M76.5 362.7v12.5"/><path d="M74.5 367.5h2.7M75.5 362.7v10.5"/><path d="M74.3 350.5h2.7M75.5 342.9v14.4"/><path d="M75.6 364.5h1.6M76.5 355.6v17.5"/><path d="M74.8 362.5h1.6M75.5 355.0v15.9"/><path d="M72.2 365.5h3.4M73.5 356.6v17.3"/><path d="M71.0 367.5h2.4M72.5 359.7v16.0"/><path d="M72.5 359.5h2.4M73.5 354.3v10.9"/><path d="M72.6 366.5h1.7M73.5 361.2v10.9"/><path d="M74.7 364.5h2.6M75.5 359.5v10.9"/><path d="M70.7 356.5h3.3M72.5 349.2v14.5"/></g>
<g fill="none" stroke="#e0141e" stroke-opacity="0.9" stroke-width="1.3"><path d="M74.8 355.5h1.8M75.5 350.9v9.8"/><path d="M74.1 354.5h2.4M75.5 349.6v9.3"/><path d="M71.3 359.5h1.7M72.5 354.4v10.7"/><path d="M74.6 360.5h2.2M75.5 356.5v8.7"/><path d="M74.0 353.5h2.2M75.5 350.3v7.2"/><path d="M73.5 355.5h1.7M74.5 352.1v7.1"/><path d="M72.4 362.5h1.9M73.5 358.3v8.7"/><path d="M73.4 367.5h1.7M74.5 362.1v10.1"/></g>
<g fill="none" stroke="#e0141e" stroke-opacity="0.35" stroke-width="0.8"><path d="M79.3 361.5h1.7M80.5 349.5v24.4"/><path d="M77.6 349.5h2.2M78.5 338.0v22.9"/><path d="M77.7 346.5h2.4M78.5 335.8v20.5"/><path d="M80.4 352.5h2.1M81.5 341.0v22.7"/><path d="M81.9 360.5h1.8M82.5 349.5v21.8"/><path d="M78.0 357.5h1.3M78.5 348.0v19.7"/><path d="M81.1 345.5h2.2M82.5 334.2v22.8"/><path d="M79.8 350.5h1.4M80.5 337.0v27.4"/><path d="M87.3 342.5h1.3M87.5 330.2v25.4"/><path d="M85.6 327.5h1.9M86.5 315.5v23.3"/><path d="M85.3 341.5h2.0M86.5 328.5v26.8"/><path d="M87.5 339.5h1.7M88.5 326.2v27.4"/><path d="M86.7 329.5h2.4M87.5 317.2v24.7"/><path d="M86.1 328.5h1.2M86.5 317.3v22.4"/><path d="M91.7 322.5h1.6M92.5 313.7v17.6"/><path d="M92.4 321.5h1.6M93.5 312.3v19.3"/><path d="M92.6 335.5h1.4M93.5 322.1v26.3"/><path d="M93.4 329.5h2.0M94.5 317.0v24.8"/><path d="M92.1 330.5h2.5M93.5 317.9v25.3"/><path d="M91.2 317.5h2.5M92.5 307.0v20.4"/><path d="M93.2 321.5h1.8M94.5 310.9v20.4"/><path d="M97.4 319.5h1.9M98.5 307.8v22.8"/><path d="M96.9 309.5h2.5M98.5 300.6v17.3"/></g>
<g fill="none" stroke="#20e020" stroke-opacity="0.45" stroke-width="0.8"><path d="M139.0 355.5h4.0M141.5 343.0v24.0"/><path d="M140.0 350.5h4.0M142.5 338.0v24.0"/><path d="M142.0 357.5h4.0M144.5 345.0v24.0"/><path d="M153.0 360.5h4.0M155.5 348.0v24.0"/><path d="M138.0 362.5h4.0M140.5 350.0v24.0"/></g>
<g fill="none" stroke="#20e020" stroke-opacity="0.7" stroke-width="0.9"><path d="M174.7 338.5h2.0M175.5 327.0v22.8"/><path d="M170.5 335.5h2.1M171.5 323.9v23.9"/><path d="M171.6 344.5h1.9M172.5 334.4v20.0"/><path d="M169.8 320.5h3.0M171.5 308.9v23.8"/><path d="M172.7 343.5h3.4M174.5 334.8v18.3"/><path d="M170.3 334.5h2.2M171.5 325.6v18.3"/><path d="M171.7 333.5h2.2M172.5 323.7v20.5"/><path d="M172.1 333.5h2.0M173.5 324.7v17.8"/><path d="M172.3 347.5h3.0M173.5 340.4v13.6"/><path d="M170.9 329.5h3.3M172.5 317.8v23.3"/></g>
<g fill="none" stroke="#1414dc" stroke-opacity="0.4" stroke-width="0.8"><path d="M180.6 346.5h6.2M183.5 321.8v48.9"/><path d="M180.8 312.5h4.7M183.5 291.2v43.0"/><path d="M177.3 334.5h5.1M179.5 308.8v50.5"/><path d="M168.9 330.5h6.4M172.5 315.3v30.7"/><path d="M169.3 343.5h6.4M172.5 328.0v30.5"/><path d="M168.7 341.5h5.4M171.5 321.2v41.4"/><path d="M175.6 339.5h5.8M178.5 324.3v30.0"/><path d="M168.7 340.5h6.4M171.5 316.4v48.3"/><path d="M174.2 324.5h4.2M176.5 308.9v30.3"/><path d="M178.5 321.5h5.0M181.5 300.7v41.6"/><path d="M173.1 336.5h4.6M175.5 318.7v35.2"/><path d="M180.7 318.5h3.5M182.5 300.5v35.6"/><path d="M175.1 340.5h4.2M177.5 322.6v35.2"/><path d="M177.1 321.5h4.8M179.5 303.6v35.6"/></g>
<g fill="none" stroke="#1414dc" stroke-opacity="0.45" stroke-width="0.8"><path d="M185.0 334.5h4.0M187.5 310.0v48.0"/><path d="M188.0 354.5h4.0M190.5 334.0v40.0"/><path d="M198.0 330.5h4.0M200.5 322.0v16.0"/></g>
<g fill="none" stroke="#1414dc" stroke-opacity="0.4" stroke-width="0.8"><path d="M254.0 238.5h4.6M256.5 219.5v37.8"/><path d="M241.0 251.5h6.4M244.5 226.2v50.5"/><path d="M245.5 235.5h6.8M248.5 217.7v36.4"/><path d="M237.9 243.5h7.8M241.5 224.1v39.6"/><path d="M241.0 255.5h7.8M244.5 235.8v40.1"/><path d="M236.5 252.5h6.9M239.5 233.6v38.8"/><path d="M252.0 243.5h4.8M254.5 220.4v45.4"/><path d="M249.8 245.5h7.0M253.5 230.2v30.4"/><path d="M246.0 243.5h3.9M247.5 216.2v53.8"/><path d="M236.5 238.5h7.3M240.5 211.4v55.0"/><path d="M253.7 242.5h7.5M257.5 225.4v33.7"/><path d="M250.5 256.5h4.4M252.5 239.9v33.5"/><path d="M248.6 255.5h6.7M251.5 227.8v54.7"/><path d="M244.9 242.5h4.1M246.5 224.4v37.1"/><path d="M255.5 235.5h4.4M257.5 216.2v39.0"/><path d="M235.9 241.5h4.4M238.5 224.8v33.2"/><path d="M245.6 246.5h6.0M248.5 222.1v49.8"/><path d="M246.6 256.5h3.9M248.5 238.8v35.8"/><path d="M235.3 241.5h6.8M238.5 214.4v54.0"/><path d="M245.6 237.5h5.0M248.5 215.5v44.8"/><path d="M239.6 253.5h7.7M243.5 232.1v42.0"/><path d="M247.5 254.5h5.6M250.5 236.8v35.0"/></g>
<g fill="none" stroke="#1414dc" stroke-opacity="0.45" stroke-width="0.8"><path d="M261.5 234.5h7.0M265.5 218.0v32.0"/><path d="M266.1 237.5h7.0M269.5 222.4v30.0"/><path d="M269.5 266.5h7.0M273.5 241.6v50.0"/><path d="M276.1 272.5h7.0M279.5 248.0v48.0"/><path d="M280.1 265.5h7.0M283.5 241.0v48.0"/><path d="M284.5 253.5h7.0M288.5 218.0v70.0"/><path d="M284.5 273.5h7.0M288.5 243.6v60.0"/><path d="M294.5 247.5h7.0M298.5 220.6v54.0"/><path d="M300.5 245.5h7.0M304.5 212.6v66.0"/><path d="M303.5 238.5h7.0M307.5 205.0v66.0"/><path d="M303.5 245.5h7.0M307.5 215.0v60.0"/><path d="M306.5 252.5h7.0M310.5 226.0v52.0"/><path d="M302.5 240.5h7.0M306.5 210.0v60.0"/><path d="M199.0 331.5h6.0M202.5 308.0v46.0"/><path d="M199.0 337.5h6.0M202.5 317.0v40.0"/><path d="M202.0 327.5h6.0M205.5 306.0v42.0"/><path d="M209.0 320.5h6.0M212.5 299.0v42.0"/><path d="M211.0 315.5h6.0M214.5 295.0v40.0"/><path d="M187.0 354.5h6.0M190.5 335.0v38.0"/></g>
<circle cx="363.0" cy="243.0" r="0.8" fill="#20e020"/>
<g fill="none" stroke="#1414dc" stroke-opacity="0.9" stroke-width="0.9"><path d="M82.2 550.5h2.9M83.5 548.0v4.4"/><path d="M74.7 585.5h2.9M76.5 583.4v3.7"/><path d="M74.6 587.5h2.5M75.5 584.6v5.3"/><path d="M78.4 568.5h2.1M79.5 567.4v3.1"/><path d="M76.1 576.5h2.4M77.5 573.9v5.2"/><path d="M76.1 575.5h2.6M77.5 573.4v4.5"/><path d="M78.0 566.5h3.2M79.5 564.2v3.8"/><path d="M83.3 549.5h1.9M84.5 547.1v4.8"/><path d="M82.3 548.5h2.9M83.5 547.0v3.8"/><path d="M80.2 565.5h2.1M81.5 563.8v3.3"/><path d="M79.7 560.5h2.5M80.5 557.7v6.2"/><path d="M78.6 566.5h2.5M79.5 565.0v3.9"/><path d="M79.1 564.5h1.7M79.5 561.7v4.7"/><path d="M77.6 566.5h2.1M78.5 564.7v4.5"/><path d="M74.8 583.5h3.1M76.5 580.4v5.8"/><path d="M77.1 576.5h2.3M78.5 574.2v4.9"/><path d="M81.8 550.5h2.1M82.5 547.2v5.9"/><path d="M78.6 567.5h2.0M79.5 564.8v5.9"/><path d="M82.3 555.5h2.8M83.5 552.6v5.8"/><path d="M81.0 558.5h1.9M81.5 555.3v5.9"/></g>
<g fill="none" stroke="#e0141e" stroke-opacity="0.75" stroke-width="0.9"><path d="M73.8 569.5h1.6M74.5 566.9v4.8"/><path d="M73.7 565.5h3.2M75.5 562.8v6.3"/><path d="M78.9 558.5h1.8M79.5 554.9v6.4"/><path d="M80.3 551.5h2.8M81.5 548.6v5.7"/><path d="M81.6 547.5h2.9M83.5 545.8v3.2"/><path d="M80.4 550.5h3.1M81.5 547.6v5.0"/><path d="M81.2 548.5h2.3M82.5 546.2v4.2"/><path d="M70.6 577.5h2.0M71.5 574.6v5.3"/><path d="M79.3 553.5h2.1M80.5 551.2v4.0"/><path d="M70.9 570.5h3.3M72.5 568.6v4.2"/><path d="M81.3 549.5h3.3M82.5 546.5v5.2"/><path d="M82.1 547.5h2.1M83.5 545.4v4.8"/><path d="M76.8 562.5h2.5M78.5 560.4v4.7"/><path d="M78.9 555.5h2.6M80.5 553.3v3.8"/><path d="M74.0 567.5h2.2M75.5 564.9v4.8"/><path d="M81.3 548.5h2.3M82.5 546.3v3.8"/><path d="M75.9 562.5h2.3M77.5 560.1v5.4"/><path d="M78.0 553.5h3.3M79.5 550.9v6.2"/><path d="M70.7 568.5h2.5M71.5 567.2v3.7"/><path d="M79.5 554.5h2.6M80.5 552.3v4.0"/><path d="M78.4 555.5h3.0M79.5 552.4v5.3"/><path d="M78.2 556.5h1.8M79.5 553.8v4.7"/><path d="M82.2 548.5h1.7M83.5 546.4v3.9"/><path d="M78.1 556.5h2.3M79.5 553.9v5.0"/><path d="M78.1 555.5h2.8M79.5 552.7v5.2"/><path d="M70.4 575.5h1.7M71.5 573.0v4.7"/><path d="M70.2 576.5h2.4M71.5 575.1v3.4"/><path d="M82.0 548.5h2.6M83.5 546.0v4.1"/><path d="M82.7 548.5h2.0M83.5 545.0v6.0"/><path d="M75.1 562.5h3.2M76.5 560.2v3.9"/><path d="M79.5 552.5h2.2M80.5 550.5v4.5"/><path d="M75.0 564.5h2.3M76.5 562.2v4.1"/><path d="M78.4 554.5h3.2M79.5 551.9v4.6"/><path d="M75.3 564.5h3.0M76.5 562.6v4.4"/><path d="M77.8 556.5h2.9M79.5 553.3v6.3"/><path d="M77.4 556.5h2.7M78.5 555.0v3.8"/><path d="M77.8 553.5h2.2M78.5 550.9v5.5"/><path d="M69.0 577.5h2.0M70.5 574.4v5.1"/><path d="M71.0 571.5h1.9M71.5 568.5v6.2"/><path d="M69.0 574.5h3.1M70.5 572.5v4.4"/></g>
<g fill="none" stroke="#e0141e" stroke-opacity="0.5" stroke-width="0.8"><path d="M74.8 543.5h2.4M76.5 539.0v8.0"/><path d="M78.0 538.5h2.4M79.5 534.7v8.0"/><path d="M79.6 528.5h2.4M80.5 524.0v8.0"/><path d="M85.5 520.5h2.4M86.5 516.5v8.0"/><path d="M85.5 534.5h2.4M86.5 530.4v8.0"/><path d="M90.3 515.5h2.4M91.5 511.0v8.0"/><path d="M90.3 522.5h2.4M91.5 518.0v8.0"/><path d="M91.8 508.5h2.4M93.5 504.8v8.0"/><path d="M96.1 507.5h2.4M97.5 503.7v8.0"/></g>
<g fill="none" stroke="#1414dc" stroke-opacity="0.9" stroke-width="0.9"><path d="M89.4 577.5h3.4M91.5 575.4v5.0"/><path d="M84.8 584.5h2.9M86.5 581.2v6.5"/><path d="M83.4 586.5h3.3M85.5 583.6v6.3"/><path d="M84.6 584.5h2.8M86.5 582.8v3.6"/><path d="M91.7 577.5h2.4M92.5 574.9v5.8"/><path d="M88.3 583.5h2.8M89.5 580.7v4.9"/><path d="M94.1 571.5h2.5M95.5 568.2v5.7"/><path d="M82.1 589.5h3.2M83.5 586.8v5.9"/><path d="M86.9 583.5h2.9M88.5 582.2v3.1"/><path d="M86.9 582.5h2.5M88.5 579.7v6.1"/><path d="M95.3 573.5h2.0M96.5 571.8v3.3"/><path d="M92.9 574.5h2.8M94.5 572.1v5.4"/><path d="M82.9 588.5h2.2M84.5 585.3v5.5"/><path d="M91.0 578.5h2.3M92.5 576.3v4.7"/><path d="M84.6 584.5h3.0M86.5 582.2v5.1"/><path d="M95.7 572.5h3.1M97.5 570.7v3.5"/><path d="M95.0 573.5h2.7M96.5 570.1v5.9"/><path d="M94.6 572.5h2.5M95.5 570.1v5.5"/><path d="M86.2 584.5h2.3M87.5 582.8v4.3"/><path d="M84.6 585.5h3.3M86.5 584.0v3.2"/><path d="M93.0 574.5h2.0M94.5 572.7v3.2"/><path d="M87.3 583.5h3.6M89.5 581.8v3.2"/><path d="M84.6 588.5h2.2M85.5 586.3v4.0"/><path d="M90.9 577.5h2.8M92.5 575.1v4.0"/><path d="M89.4 580.5h2.3M90.5 578.3v4.0"/><path d="M85.9 585.5h3.0M87.5 583.3v3.9"/><path d="M83.7 587.5h2.9M85.5 585.1v4.1"/><path d="M94.1 572.5h3.2M95.5 569.9v5.4"/><path d="M88.0 581.5h2.9M89.5 578.9v4.6"/><path d="M87.3 580.5h3.7M89.5 578.1v3.8"/><path d="M81.5 589.5h3.5M83.5 587.2v5.2"/><path d="M85.9 586.5h3.6M87.5 583.6v5.4"/></g>
<g fill="none" stroke="#1414dc" stroke-opacity="0.6" stroke-width="0.8"><path d="M104.7 564.5h2.6M106.5 562.3v4.9"/><path d="M108.5 563.5h3.6M110.5 562.3v3.3"/><path d="M100.0 569.5h2.9M101.5 567.3v4.1"/><path d="M104.8 563.5h2.0M105.5 560.7v6.5"/><path d="M96.4 572.5h3.1M97.5 570.5v3.4"/><path d="M103.5 566.5h3.4M105.5 564.0v5.1"/><path d="M103.3 567.5h3.7M105.5 564.7v5.4"/><path d="M97.9 570.5h2.5M99.5 567.6v5.0"/><path d="M104.3 566.5h3.2M105.5 564.4v3.8"/><path d="M96.4 570.5h3.8M98.5 567.9v5.0"/><path d="M96.4 570.5h3.5M98.5 567.6v5.5"/><path d="M105.4 565.5h3.5M107.5 563.4v3.5"/></g>
<g fill="none" stroke="#1414dc" stroke-opacity="0.9" stroke-width="0.9"><path d="M89.0 557.5h2.1M90.5 554.8v4.7"/><path d="M93.8 560.5h2.3M94.5 557.6v5.9"/><path d="M88.4 564.5h3.1M89.5 561.1v6.3"/><path d="M87.8 563.5h2.6M89.5 560.4v5.9"/><path d="M89.3 565.5h2.2M90.5 562.8v4.7"/><path d="M93.8 559.5h2.4M94.5 556.5v6.2"/><path d="M92.0 557.5h2.2M93.5 555.7v3.8"/><path d="M89.0 566.5h3.3M90.5 563.5v6.4"/><path d="M91.8 564.5h2.6M93.5 561.4v5.5"/><path d="M90.5 557.5h2.8M91.5 555.3v4.3"/><path d="M91.3 557.5h1.9M92.5 554.2v6.4"/><path d="M90.1 560.5h2.1M91.5 558.1v5.1"/><path d="M93.2 558.5h2.9M94.5 556.5v4.7"/><path d="M92.6 563.5h2.3M93.5 561.6v3.7"/><path d="M91.6 557.5h3.6M93.5 556.2v3.1"/><path d="M88.2 562.5h3.6M90.5 559.7v5.2"/><path d="M91.9 565.5h3.3M93.5 564.1v3.2"/><path d="M93.0 558.5h2.1M94.5 557.0v3.1"/><path d="M87.7 567.5h2.6M88.5 565.4v3.3"/><path d="M87.6 566.5h3.1M89.5 563.6v6.2"/><path d="M87.8 558.5h2.4M89.5 556.3v3.7"/><path d="M87.9 559.5h3.1M89.5 557.4v3.6"/></g>
<g fill="none" stroke="#1414dc" stroke-opacity="0.9" stroke-width="1.0"><path d="M101.7 490.5h2.0M102.5 485.0v10.0"/></g>
<g fill="none" stroke="#1414dc" stroke-opacity="0.7" stroke-width="0.8"><path d="M106.8 534.5h2.1M107.5 532.1v5.0"/><path d="M109.9 529.5h1.9M110.5 526.8v5.2"/><path d="M106.8 534.5h3.7M108.5 531.8v5.1"/><path d="M107.9 530.5h2.1M108.5 528.4v4.3"/><path d="M110.5 526.5h3.7M112.5 524.6v3.1"/><path d="M107.4 533.5h3.4M109.5 531.0v5.4"/><path d="M113.3 522.5h3.6M115.5 519.5v5.7"/><path d="M107.1 535.5h3.6M108.5 533.4v4.3"/><path d="M111.9 526.5h3.0M113.5 523.9v6.1"/><path d="M114.0 519.5h3.8M115.5 518.0v3.5"/><path d="M108.4 530.5h3.4M110.5 529.0v3.2"/><path d="M110.7 527.5h3.1M112.5 525.5v3.7"/></g>
<g fill="none" stroke="#1414dc" stroke-opacity="0.45" stroke-width="0.8"><path d="M98.4 551.5h5.2M101.5 548.5v5.5"/><path d="M98.8 545.5h2.9M100.5 541.7v8.4"/><path d="M97.1 541.5h3.4M98.5 539.3v4.2"/><path d="M95.3 523.5h3.3M97.5 520.3v5.5"/><path d="M104.6 544.5h2.6M105.5 540.2v7.7"/><path d="M96.9 538.5h4.4M99.5 534.7v8.4"/><path d="M103.8 536.5h3.3M105.5 533.8v6.1"/><path d="M98.0 547.5h3.7M99.5 543.7v7.6"/><path d="M95.8 548.5h5.1M98.5 546.2v5.2"/></g>
<g fill="none" stroke="#1414dc" stroke-opacity="0.7" stroke-width="0.8"><path d="M121.0 556.5h2.5M122.5 553.6v5.3"/><path d="M113.7 569.5h4.0M115.5 566.5v6.4"/><path d="M126.2 553.5h2.7M127.5 552.0v3.8"/><path d="M117.7 571.5h4.3M119.5 568.9v5.9"/><path d="M124.5 561.5h2.7M125.5 558.1v6.3"/><path d="M112.1 557.5h2.5M113.5 555.8v4.3"/><path d="M112.6 564.5h2.8M113.5 561.9v6.1"/><path d="M124.0 560.5h2.7M125.5 557.4v6.4"/><path d="M122.0 573.5h4.0M123.5 570.3v6.0"/><path d="M123.4 568.5h5.1M125.5 566.0v4.8"/><path d="M122.8 567.5h3.7M124.5 565.5v3.6"/><path d="M118.1 558.5h4.1M120.5 555.8v5.7"/><path d="M119.3 553.5h2.8M120.5 550.8v6.1"/><path d="M120.9 575.5h4.6M123.5 573.4v4.8"/><path d="M117.5 564.5h4.7M119.5 561.8v5.3"/><path d="M125.1 563.5h3.5M126.5 561.1v5.6"/></g>
<g fill="none" stroke="#1414dc" stroke-opacity="0.9" stroke-width="0.9"><path d="M118.2 571.5h1.9M119.5 569.5v4.4"/><path d="M116.9 568.5h2.1M117.5 566.5v3.5"/><path d="M117.7 567.5h3.4M119.5 565.2v4.6"/><path d="M117.0 564.5h3.7M118.5 563.1v3.7"/><path d="M116.2 570.5h2.8M117.5 568.7v3.5"/><path d="M116.5 570.5h3.4M118.5 568.9v3.2"/><path d="M119.1 563.5h2.7M120.5 560.7v5.1"/><path d="M116.6 571.5h2.5M117.5 569.3v3.5"/><path d="M120.0 562.5h1.9M120.5 559.5v5.3"/><path d="M117.9 570.5h3.5M119.5 568.8v3.7"/></g>
<g fill="none" stroke="#20e020" stroke-opacity="0.9" stroke-width="0.9"><path d="M84.4 585.5h2.1M85.5 584.3v3.2"/><path d="M85.6 584.5h3.2M87.5 583.3v3.3"/><path d="M88.8 582.5h3.2M90.5 581.3v3.0"/><path d="M84.3 586.5h2.6M85.5 584.7v3.3"/><path d="M91.8 580.5h2.1M92.5 579.9v1.9"/><path d="M90.7 580.5h2.3M91.5 579.0v2.8"/><path d="M90.6 581.5h1.7M91.5 580.2v1.9"/><path d="M104.8 587.5h3.2M106.5 586.4v2.6"/><path d="M100.0 584.5h3.8M101.5 582.7v3.1"/><path d="M98.1 589.5h3.1M99.5 588.3v3.1"/><path d="M104.0 588.5h3.6M105.5 586.9v3.8"/><path d="M101.0 589.5h2.6M102.5 587.9v2.7"/><path d="M100.6 589.5h2.5M101.5 588.0v2.5"/><path d="M104.9 590.5h3.2M106.5 589.1v3.6"/><path d="M100.9 589.5h2.3M102.5 588.0v2.5"/><path d="M97.5 590.5h3.7M99.5 589.6v2.4"/><path d="M101.0 583.5h2.1M102.5 582.1v3.1"/><path d="M105.8 583.5h2.3M106.5 581.6v3.4"/><path d="M99.3 591.5h2.5M100.5 590.3v2.8"/><path d="M99.0 585.5h2.7M100.5 584.3v2.4"/><path d="M103.8 582.5h3.1M105.5 581.0v3.5"/><path d="M117.9 581.5h2.1M118.5 580.3v2.0"/><path d="M122.9 584.5h1.8M123.5 582.7v2.8"/><path d="M120.8 582.5h1.9M121.5 580.8v2.7"/><path d="M117.9 586.5h2.6M119.5 584.6v3.7"/><path d="M123.6 583.5h2.1M124.5 582.1v3.5"/><path d="M115.4 583.5h2.0M116.5 582.7v2.0"/><path d="M117.9 581.5h3.9M119.5 579.5v3.0"/><path d="M123.2 586.5h3.4M124.5 584.8v3.2"/><path d="M118.9 585.5h3.2M120.5 584.1v2.1"/><path d="M119.6 582.5h2.9M121.5 581.1v3.3"/><path d="M121.0 583.5h3.5M122.5 582.1v3.5"/><path d="M115.5 580.5h1.9M116.5 579.9v2.1"/><path d="M124.2 582.5h2.7M125.5 580.7v2.8"/><path d="M119.7 581.5h3.4M121.5 580.6v2.5"/><path d="M123.5 585.5h1.8M124.5 583.9v3.0"/><path d="M115.5 585.5h1.9M116.5 584.7v2.4"/></g>
<g fill="none" stroke="#20e020" stroke-opacity="0.9" stroke-width="1.0"><path d="M87.3 560.5h2.0M88.5 558.5v3.0"/><path d="M91.0 554.5h2.0M92.5 553.2v3.0"/></g>
<g fill="none" stroke="#20e020" stroke-opacity="1" stroke-width="1.2"><path d="M138.9 555.5h2.6M140.5 554.6v2.1"/><path d="M138.7 554.5h2.2M139.5 554.0v1.9"/><path d="M139.2 554.5h1.7M140.5 553.8v1.8"/><path d="M139.1 555.5h1.4M139.5 554.1v3.1"/></g>
<g fill="none" stroke="#20e020" stroke-opacity="0.9" stroke-width="1.0"><path d="M141.2 550.5h1.6M142.5 549.0v3.0"/><path d="M152.2 544.5h1.6M153.5 542.5v3.0"/><path d="M143.7 590.5h1.6M144.5 588.5v3.0"/></g>
<g fill="none" stroke="#e0141e" stroke-opacity="0.4" stroke-width="0.8"><path d="M138.0 515.5h10.0M143.5 511.5v8.0"/><path d="M141.0 515.5h8.0M145.5 511.0v8.0"/></g>
<g fill="none" stroke="#1414dc" stroke-opacity="0.45" stroke-width="0.8"><path d="M177.7 558.5h5.0M180.5 551.9v14.1"/><path d="M177.8 556.5h7.9M181.5 549.3v14.1"/><path d="M178.9 556.5h4.8M181.5 552.4v8.6"/><path d="M169.2 565.5h8.7M173.5 560.1v11.2"/><path d="M169.7 558.5h5.4M172.5 552.3v12.6"/><path d="M175.7 564.5h6.3M178.5 558.6v11.0"/><path d="M172.9 558.5h6.4M176.5 552.3v13.0"/><path d="M175.3 558.5h7.0M178.5 554.0v8.4"/><path d="M168.5 559.5h6.0M171.5 555.3v7.5"/></g>
<g fill="none" stroke="#1414dc" stroke-opacity="0.6" stroke-width="0.8"><path d="M174.7 559.5h5.0M177.5 555.8v7.1"/><path d="M175.4 558.5h3.4M177.5 556.1v4.9"/><path d="M175.0 560.5h4.7M177.5 558.1v5.2"/><path d="M176.3 556.5h2.4M177.5 553.4v6.8"/></g>
<g fill="none" stroke="#20e020" stroke-opacity="1" stroke-width="1.1"><path d="M172.0 584.5h2.8M173.5 583.4v2.0"/><path d="M171.9 581.5h2.7M173.5 580.2v3.3"/><path d="M172.7 582.5h2.0M173.5 581.3v2.8"/><path d="M174.3 581.5h2.8M175.5 579.7v3.7"/><path d="M173.4 585.5h3.0M174.5 584.7v2.2"/><path d="M175.1 581.5h2.8M176.5 580.2v2.1"/><path d="M172.3 582.5h2.8M173.5 581.0v3.2"/><path d="M171.9 585.5h2.9M173.5 584.0v2.9"/><path d="M171.7 581.5h1.9M172.5 580.4v2.7"/></g>
<g fill="none" stroke="#1414dc" stroke-opacity="0.45" stroke-width="0.8"><path d="M183.0 589.5h6.0M186.5 585.5v7.0"/><path d="M186.0 592.5h6.0M189.5 588.5v7.0"/><path d="M197.0 588.5h6.0M200.5 584.5v7.0"/><path d="M200.6 591.5h6.0M203.5 587.5v7.0"/></g>
<g fill="none" stroke="#1414dc" stroke-opacity="0.6" stroke-width="0.8"><path d="M250.1 536.5h5.9M253.5 534.2v3.9"/><path d="M239.8 537.5h4.2M241.5 534.8v4.6"/><path d="M236.8 532.5h4.4M239.5 529.4v5.9"/><path d="M242.4 535.5h4.0M244.5 534.1v3.7"/><path d="M246.4 534.5h4.7M248.5 531.8v5.2"/><path d="M240.3 532.5h4.0M242.5 529.9v4.9"/><path d="M237.5 532.5h4.7M239.5 530.4v3.7"/><path d="M249.8 534.5h4.6M252.5 531.6v5.8"/><path d="M235.5 532.5h5.7M238.5 529.7v5.9"/><path d="M243.1 534.5h5.6M245.5 531.5v5.7"/><path d="M247.6 537.5h6.1M250.5 534.5v6.6"/><path d="M246.3 535.5h4.9M248.5 532.2v6.0"/><path d="M243.4 537.5h6.0M246.5 535.8v3.8"/><path d="M247.5 536.5h5.1M250.5 532.6v7.4"/><path d="M236.6 535.5h4.3M238.5 531.5v7.6"/><path d="M238.9 535.5h3.5M240.5 532.6v6.8"/></g>
<g fill="none" stroke="#1414dc" stroke-opacity="0.55" stroke-width="0.8"><path d="M254.5 527.5h5.0M257.5 524.6v6.0"/><path d="M261.1 531.5h5.0M263.5 528.6v6.0"/><path d="M266.5 528.5h5.0M269.5 525.0v6.0"/><path d="M241.5 535.5h5.0M244.5 532.0v6.0"/><path d="M247.5 530.5h5.0M250.5 527.0v6.0"/></g>
<g fill="none" stroke="#1414dc" stroke-opacity="0.5" stroke-width="0.8"><path d="M209.1 584.5h5.0M211.5 581.0v6.0"/><path d="M188.5 591.5h5.0M191.5 588.0v6.0"/><path d="M210.5 586.5h5.0M213.5 583.0v6.0"/></g>
<g fill="none" stroke="#1414dc" stroke-opacity="0.55" stroke-width="0.8"><path d="M268.5 601.5h7.0M272.5 599.2v5.0"/><path d="M275.5 602.5h7.0M279.5 599.8v5.0"/><path d="M280.5 601.5h7.0M284.5 598.8v5.0"/><path d="M283.5 602.5h7.0M287.5 600.2v5.0"/><path d="M293.5 600.5h7.0M297.5 598.0v5.0"/><path d="M301.5 601.5h7.0M305.5 598.6v5.0"/><path d="M304.5 602.5h7.0M308.5 599.8v5.0"/><path d="M306.5 602.5h7.0M310.5 600.2v5.0"/></g>
<g fill="none" stroke="#1414dc" stroke-opacity="0.8" stroke-width="1.0"><path d="M49.8 637.5h2.0M50.5 636.9v1.6"/></g>
<g fill="none" stroke="#20e020" stroke-opacity="0.35" stroke-width="0.8"><path d="M82.6 717.5h48.0M106.5 717.2v0.0"/><path d="M106.6 717.5h0.0M106.5 632.2v170.0"/></g>
<g fill="none" stroke="#e0141e" stroke-opacity="0.5" stroke-width="0.8"><path d="M138.2 786.5h11.0M143.5 773.6v26.0"/><path d="M144.5 786.5h2.0M145.5 773.0v26.0"/></g>
<g fill="none" stroke="#1414dc" stroke-opacity="0.5" stroke-width="0.9"><path d="M77.5 834.5h2.0M78.5 828.1v13.7"/><path d="M76.2 833.5h3.8M78.5 827.3v12.2"/><path d="M72.0 836.5h2.5M73.5 831.9v8.8"/><path d="M78.2 839.5h2.1M79.5 833.8v11.6"/><path d="M73.9 837.5h2.0M74.5 832.4v10.7"/><path d="M74.5 836.5h2.7M75.5 829.9v12.8"/><path d="M77.7 839.5h3.7M79.5 832.2v14.6"/><path d="M73.2 834.5h2.8M74.5 828.1v13.1"/><path d="M81.1 835.5h3.9M83.5 830.7v10.5"/><path d="M79.0 831.5h2.2M80.5 824.6v13.8"/><path d="M83.1 830.5h2.3M84.5 825.7v9.9"/><path d="M82.8 845.5h2.4M83.5 840.9v8.8"/><path d="M83.2 846.5h3.3M84.5 840.6v11.8"/><path d="M82.3 843.5h2.9M83.5 838.0v10.2"/><path d="M81.4 841.5h2.5M82.5 834.7v13.1"/><path d="M79.6 846.5h2.2M80.5 841.6v9.8"/><path d="M95.8 847.5h3.7M97.5 839.8v14.7"/><path d="M95.1 845.5h3.0M96.5 840.8v8.6"/><path d="M93.8 845.5h3.6M95.5 841.2v8.3"/><path d="M88.1 843.5h2.8M89.5 836.1v15.1"/><path d="M96.3 839.5h3.2M97.5 832.5v13.3"/><path d="M93.7 837.5h3.1M95.5 833.6v8.5"/><path d="M95.4 843.5h3.5M97.5 837.7v11.7"/><path d="M89.2 839.5h3.2M90.5 833.0v12.4"/><path d="M88.7 832.5h2.6M89.5 827.1v10.0"/><path d="M89.7 835.5h2.7M91.5 828.8v13.6"/><path d="M96.3 842.5h1.8M97.5 835.4v14.9"/><path d="M92.9 843.5h3.1M94.5 838.3v10.8"/><path d="M90.5 833.5h3.2M92.5 828.9v8.4"/><path d="M93.5 846.5h3.2M95.5 840.2v12.8"/><path d="M94.5 847.5h3.5M96.5 839.4v15.9"/><path d="M91.6 832.5h3.1M93.5 825.7v13.1"/><path d="M95.5 841.5h2.6M96.5 837.8v8.0"/><path d="M94.5 841.5h3.9M96.5 835.6v12.7"/><path d="M94.7 844.5h3.9M96.5 838.5v11.7"/><path d="M96.2 838.5h1.8M97.5 833.0v10.6"/><path d="M90.8 847.5h2.6M92.5 842.8v10.2"/><path d="M94.0 833.5h2.4M95.5 828.0v11.2"/><path d="M100.0 831.5h2.7M101.5 824.5v14.4"/><path d="M100.9 846.5h2.2M102.5 840.0v12.2"/><path d="M100.5 809.5h2.4M101.5 802.0v15.2"/><path d="M100.4 827.5h2.9M101.5 822.5v10.1"/><path d="M101.3 811.5h2.5M102.5 806.3v10.3"/><path d="M101.8 838.5h3.3M103.5 831.9v12.8"/><path d="M109.4 836.5h1.9M110.5 832.3v9.0"/><path d="M107.8 839.5h3.9M109.5 832.1v14.2"/><path d="M105.2 832.5h3.1M106.5 826.2v12.8"/><path d="M105.2 842.5h2.9M106.5 837.2v10.2"/><path d="M109.9 828.5h1.9M110.5 821.6v13.4"/><path d="M106.1 824.5h2.4M107.5 817.8v12.9"/><path d="M105.7 834.5h3.7M107.5 827.0v15.9"/><path d="M109.3 841.5h2.3M110.5 833.8v14.6"/><path d="M111.4 834.5h2.0M112.5 830.1v8.8"/><path d="M114.1 820.5h3.3M115.5 814.7v12.2"/><path d="M111.0 840.5h1.9M112.5 833.2v15.1"/><path d="M113.9 831.5h2.7M115.5 827.8v8.2"/><path d="M113.3 818.5h2.9M114.5 810.5v15.4"/><path d="M113.1 820.5h3.3M114.5 813.7v13.6"/><path d="M111.8 840.5h3.0M113.5 834.5v11.3"/><path d="M112.9 825.5h2.4M114.5 817.7v15.1"/><path d="M121.5 841.5h2.6M122.5 837.2v9.5"/><path d="M118.3 846.5h3.4M120.5 838.3v15.9"/><path d="M123.6 826.5h2.1M124.5 822.2v8.4"/><path d="M123.0 838.5h3.8M124.5 833.5v10.4"/><path d="M120.8 829.5h2.1M121.5 825.8v8.2"/><path d="M122.7 834.5h2.6M123.5 826.4v15.6"/><path d="M121.1 843.5h2.9M122.5 838.8v8.8"/><path d="M118.4 838.5h3.6M120.5 834.2v8.4"/><path d="M124.0 830.5h3.2M125.5 822.8v14.7"/><path d="M124.8 830.5h2.1M125.5 822.5v15.7"/><path d="M125.9 845.5h2.9M127.5 841.1v8.4"/><path d="M122.0 845.5h1.9M122.5 839.8v10.4"/></g>
<g fill="none" stroke="#1414dc" stroke-opacity="0.85" stroke-width="1.1"><path d="M88.1 847.5h2.5M89.5 844.8v5.3"/><path d="M90.9 838.5h2.7M92.5 834.5v8.3"/><path d="M93.5 837.5h2.9M94.5 834.7v5.1"/><path d="M91.8 846.5h2.4M92.5 841.8v9.4"/><path d="M89.5 841.5h3.5M91.5 838.7v4.8"/><path d="M92.3 842.5h3.3M93.5 837.9v10.1"/><path d="M94.1 838.5h2.2M95.5 835.2v7.5"/><path d="M90.5 843.5h2.0M91.5 838.8v8.7"/><path d="M91.7 836.5h2.1M92.5 831.6v10.0"/><path d="M95.3 847.5h2.6M96.5 842.3v10.3"/><path d="M88.6 845.5h3.8M90.5 842.5v6.0"/><path d="M88.1 837.5h2.0M89.5 833.0v9.3"/><path d="M93.4 842.5h2.0M94.5 838.0v8.4"/><path d="M88.7 837.5h3.0M90.5 833.5v8.4"/></g>
<g fill="none" stroke="#1414dc" stroke-opacity="0.5" stroke-width="0.9"><path d="M116.5 845.5h1.8M117.5 841.3v7.8"/><path d="M81.8 839.5h1.6M82.5 834.3v11.2"/><path d="M109.9 844.5h2.4M111.5 839.2v11.5"/><path d="M117.7 845.5h3.0M119.5 841.6v7.3"/><path d="M91.8 832.5h3.0M93.5 828.5v8.8"/><path d="M126.1 836.5h2.3M127.5 831.0v11.2"/><path d="M124.8 844.5h3.2M126.5 838.3v11.5"/><path d="M88.6 841.5h1.7M89.5 836.8v10.1"/><path d="M124.6 840.5h1.8M125.5 835.4v9.4"/><path d="M77.6 839.5h1.7M78.5 835.1v8.5"/><path d="M116.8 843.5h3.1M118.5 839.5v8.7"/><path d="M96.9 832.5h3.0M98.5 828.2v9.4"/><path d="M95.4 834.5h2.4M96.5 831.1v6.4"/><path d="M80.2 833.5h2.3M81.5 829.9v6.8"/><path d="M117.3 841.5h3.1M118.5 837.1v9.3"/><path d="M81.9 836.5h3.1M83.5 831.7v9.5"/><path d="M108.4 842.5h1.6M109.5 838.5v7.2"/><path d="M96.2 845.5h3.3M97.5 840.7v9.5"/><path d="M87.5 832.5h2.6M88.5 828.5v8.5"/><path d="M123.4 835.5h1.9M124.5 832.3v6.1"/><path d="M74.9 844.5h3.1M76.5 841.5v6.9"/><path d="M74.8 841.5h2.0M75.5 836.4v9.7"/><path d="M122.3 843.5h2.1M123.5 839.1v9.6"/><path d="M89.3 844.5h2.0M90.5 838.5v11.2"/><path d="M109.9 846.5h2.2M110.5 840.4v11.7"/><path d="M104.5 836.5h2.7M105.5 832.2v7.9"/><path d="M79.7 832.5h2.7M81.5 828.9v7.5"/><path d="M79.4 844.5h1.8M80.5 839.2v10.5"/><path d="M87.8 837.5h3.3M89.5 832.3v11.0"/><path d="M117.9 847.5h2.7M119.5 841.9v11.6"/><path d="M106.9 841.5h2.1M107.5 837.2v8.3"/><path d="M103.8 835.5h2.7M105.5 830.4v11.2"/><path d="M112.4 835.5h1.6M113.5 831.5v8.2"/><path d="M96.7 845.5h2.6M98.5 841.0v9.1"/><path d="M105.7 840.5h2.8M107.5 836.2v9.3"/><path d="M103.4 835.5h1.8M104.5 831.5v8.6"/><path d="M120.9 847.5h2.1M121.5 842.4v9.4"/><path d="M101.5 839.5h1.9M102.5 833.9v10.7"/><path d="M78.5 835.5h2.1M79.5 832.0v7.2"/><path d="M84.0 833.5h2.5M85.5 829.8v7.0"/><path d="M107.7 841.5h2.7M109.5 837.2v8.9"/><path d="M106.3 836.5h2.4M107.5 831.7v10.1"/><path d="M85.1 843.5h2.6M86.5 837.8v11.8"/><path d="M106.2 840.5h3.0M107.5 836.9v7.7"/><path d="M93.3 838.5h2.9M94.5 833.8v10.3"/></g>
<g fill="none" stroke="#1414dc" stroke-opacity="0.85" stroke-width="1.2"><path d="M87.0 847.5h3.1M88.5 844.7v5.7"/><path d="M98.9 844.5h2.1M99.5 842.2v4.0"/><path d="M84.9 843.5h2.6M86.5 840.8v6.2"/><path d="M95.6 842.5h2.7M96.5 839.3v6.1"/><path d="M93.6 843.5h2.6M94.5 840.5v6.0"/><path d="M86.0 844.5h2.6M87.5 842.1v5.4"/><path d="M98.7 842.5h1.7M99.5 839.9v5.7"/><path d="M89.5 839.5h2.9M91.5 837.5v4.3"/><path d="M94.8 839.5h2.3M95.5 835.8v7.8"/><path d="M86.5 846.5h1.5M87.5 842.7v7.7"/><path d="M97.5 842.5h2.5M98.5 839.7v5.5"/><path d="M87.2 841.5h2.2M88.5 837.9v7.3"/><path d="M86.5 843.5h2.2M87.5 840.4v5.9"/><path d="M96.1 843.5h2.0M97.5 840.2v7.6"/></g>
<g fill="none" stroke="#1414dc" stroke-opacity="0.9" stroke-width="1.5"><path d="M83.5 847.5h3.0M85.5 846.5v2.0"/><path d="M89.5 847.5h3.0M91.5 846.5v2.0"/><path d="M116.5 847.5h3.0M118.5 846.5v2.0"/><path d="M121.0 847.5h3.0M122.5 846.5v2.0"/></g>
<g fill="none" stroke="#20e020" stroke-opacity="0.7" stroke-width="1.0"><path d="M117.8 837.5h2.4M118.5 833.2v9.7"/><path d="M116.5 842.5h2.3M117.5 838.9v6.4"/><path d="M116.8 837.5h2.2M117.5 834.0v7.2"/><path d="M117.8 837.5h2.5M119.5 834.2v7.5"/><path d="M118.6 843.5h1.8M119.5 838.7v10.3"/></g>
<g fill="none" stroke="#e0141e" stroke-opacity="0.9" stroke-width="1.3"><path d="M72.3 831.5h1.9M73.5 828.1v6.6"/><path d="M71.7 834.5h1.9M72.5 831.2v7.2"/><path d="M70.7 836.5h2.2M71.5 834.1v5.3"/><path d="M72.2 833.5h2.4M73.5 830.3v6.0"/><path d="M74.5 835.5h1.6M75.5 831.6v7.7"/><path d="M69.2 828.5h2.8M70.5 826.1v4.8"/><path d="M69.5 829.5h2.3M70.5 826.2v7.1"/><path d="M69.9 829.5h1.5M70.5 827.7v3.8"/><path d="M70.5 832.5h3.1M72.5 829.7v6.3"/><path d="M73.3 833.5h3.0M74.5 830.7v6.4"/><path d="M70.6 831.5h2.2M71.5 829.7v4.1"/><path d="M74.2 832.5h1.8M75.5 830.0v5.7"/><path d="M73.3 830.5h2.4M74.5 828.7v4.0"/><path d="M70.6 829.5h2.3M71.5 826.6v6.5"/><path d="M70.4 834.5h2.4M71.5 831.5v6.8"/><path d="M73.9 831.5h3.1M75.5 828.6v5.5"/><path d="M72.3 829.5h1.6M73.5 826.6v6.3"/><path d="M70.2 828.5h1.6M71.5 825.4v5.9"/><path d="M70.1 830.5h2.7M71.5 827.9v5.5"/><path d="M69.7 834.5h3.1M71.5 831.7v6.2"/><path d="M71.4 833.5h2.6M72.5 829.8v7.1"/><path d="M73.1 830.5h2.8M74.5 828.5v4.0"/><path d="M70.3 833.5h1.8M71.5 830.1v6.0"/><path d="M70.8 837.5h2.2M71.5 833.9v7.0"/></g>
<g fill="none" stroke="#e0141e" stroke-opacity="0.35" stroke-width="0.8"><path d="M75.4 824.5h2.3M76.5 817.5v13.9"/><path d="M75.4 824.5h2.1M76.5 815.4v17.4"/><path d="M80.8 817.5h1.9M81.5 811.5v12.9"/><path d="M80.4 820.5h1.2M80.5 813.7v13.9"/><path d="M80.2 816.5h2.2M81.5 810.9v12.0"/><path d="M86.0 813.5h2.0M87.5 807.3v13.4"/><path d="M85.9 815.5h2.3M87.5 808.2v14.4"/><path d="M86.2 815.5h1.6M87.5 809.7v12.4"/><path d="M92.7 813.5h2.2M93.5 808.3v11.2"/><path d="M92.1 811.5h1.5M92.5 806.2v11.0"/><path d="M89.8 816.5h2.6M91.5 810.0v12.9"/><path d="M90.0 815.5h2.1M91.5 810.2v10.4"/><path d="M92.5 811.5h1.5M93.5 803.3v16.2"/><path d="M96.5 810.5h1.9M97.5 802.5v16.4"/><path d="M96.8 811.5h1.5M97.5 806.3v10.5"/></g>
<g fill="none" stroke="#20e020" stroke-opacity="0.6" stroke-width="0.9"><path d="M138.2 832.5h2.4M139.5 829.2v7.4"/><path d="M141.6 833.5h2.5M142.5 829.9v7.1"/><path d="M143.0 832.5h2.9M144.5 827.8v10.3"/><path d="M143.1 836.5h2.6M144.5 832.3v7.9"/><path d="M138.6 827.5h2.6M139.5 824.0v6.2"/></g>
<g fill="none" stroke="#20e020" stroke-opacity="0.5" stroke-width="0.8"><path d="M151.5 829.5h2.0M152.5 826.6v6.0"/></g>
<g fill="none" stroke="#20e020" stroke-opacity="0.8" stroke-width="1.0"><path d="M172.1 832.5h2.5M173.5 830.2v5.4"/><path d="M170.9 830.5h2.6M172.5 827.1v7.3"/><path d="M171.4 830.5h2.2M172.5 828.1v5.4"/><path d="M172.0 834.5h2.7M173.5 831.3v7.0"/><path d="M172.6 836.5h2.2M173.5 834.0v5.5"/><path d="M172.0 830.5h2.8M173.5 828.1v5.4"/></g>
<g fill="none" stroke="#1414dc" stroke-opacity="0.8" stroke-width="1.0"><path d="M174.0 839.5h10.0M179.5 832.4v14.0"/></g>
<g fill="none" stroke="#1414dc" stroke-opacity="0.45" stroke-width="0.8"><path d="M168.0 842.5h8.0M172.5 837.0v10.0"/><path d="M186.6 845.5h5.1M189.5 843.0v4.9"/><path d="M183.2 844.5h7.6M186.5 842.1v5.6"/><path d="M188.4 850.5h6.9M191.5 847.5v6.4"/></g>
<g fill="none" stroke="#1414dc" stroke-opacity="0.55" stroke-width="0.8"><path d="M236.2 817.5h3.2M237.5 814.7v6.5"/><path d="M250.0 815.5h5.9M252.5 810.7v9.5"/><path d="M238.8 813.5h3.3M240.5 810.0v6.9"/><path d="M243.7 817.5h4.0M245.5 812.9v8.5"/><path d="M238.2 810.5h3.2M239.5 806.5v8.1"/><path d="M244.9 815.5h4.5M247.5 810.9v10.0"/><path d="M246.4 814.5h6.1M249.5 811.3v5.8"/><path d="M239.8 814.5h5.1M242.5 808.9v10.2"/><path d="M245.6 808.5h6.3M248.5 804.3v7.4"/><path d="M238.3 816.5h5.2M240.5 811.7v9.6"/><path d="M244.3 810.5h4.6M246.5 806.8v7.4"/><path d="M241.5 814.5h3.5M243.5 811.2v6.2"/><path d="M237.0 807.5h4.8M239.5 803.4v8.9"/><path d="M241.6 818.5h5.1M244.5 813.9v8.5"/><path d="M240.1 818.5h4.2M242.5 813.3v9.5"/><path d="M238.8 818.5h5.4M241.5 815.8v5.8"/></g>
<g fill="none" stroke="#1414dc" stroke-opacity="0.5" stroke-width="0.8"><path d="M254.5 810.5h5.0M257.5 806.0v8.0"/><path d="M261.1 806.5h5.0M263.5 802.0v8.0"/><path d="M265.5 811.5h5.0M268.5 807.0v8.0"/><path d="M237.5 812.5h5.0M240.5 808.0v8.0"/><path d="M279.0 845.5h6.0M282.5 840.0v10.0"/><path d="M282.0 844.5h6.0M285.5 839.0v10.0"/><path d="M283.0 846.5h6.0M286.5 841.0v10.0"/><path d="M286.0 844.5h6.0M289.5 839.0v10.0"/><path d="M294.0 845.5h6.0M297.5 840.0v10.0"/><path d="M307.0 840.5h6.0M310.5 835.7v10.0"/><path d="M197.5 845.5h6.0M200.5 840.0v10.0"/></g>
<circle cx="362.2" cy="670.4" r="0.8" fill="#20e020"/>
<g fill="none" stroke="#1414dc" stroke-opacity="0.4" stroke-width="0.8"><path d="M91.8 867.5h2.0M92.5 858.0v18.0"/><path d="M49.8 952.5h2.0M50.5 941.0v22.0"/><path d="M49.8 1009.5h2.0M50.5 996.0v26.0"/></g>
<g fill="none" stroke="#1414dc" stroke-opacity="0.45" stroke-width="0.8"><path d="M92.5 945.5h2.0M93.5 939.0v12.0"/></g>
<g fill="none" stroke="#1414dc" stroke-opacity="0.5" stroke-width="0.9"><path d="M80.0 1039.5h2.6M81.5 1032.2v13.8"/><path d="M77.8 1043.5h2.1M78.5 1036.1v14.0"/><path d="M76.1 1051.5h2.5M77.5 1043.0v17.1"/><path d="M77.6 1055.5h3.6M79.5 1046.6v17.1"/><path d="M80.1 1053.5h3.8M82.5 1046.8v14.1"/><path d="M79.2 1037.5h2.6M80.5 1030.7v13.3"/><path d="M79.0 1036.5h3.4M80.5 1030.8v10.7"/><path d="M77.6 1045.5h3.6M79.5 1037.3v16.3"/><path d="M76.6 1049.5h2.3M77.5 1041.0v16.2"/><path d="M78.0 1054.5h2.7M79.5 1048.4v12.7"/><path d="M90.5 1056.5h2.5M91.5 1049.9v12.4"/><path d="M91.9 1050.5h3.8M93.5 1044.7v10.8"/><path d="M90.5 1051.5h2.8M91.5 1042.7v16.9"/><path d="M94.1 1037.5h1.9M95.5 1032.1v11.8"/><path d="M90.5 1039.5h2.4M91.5 1034.3v11.1"/><path d="M87.5 1047.5h3.4M89.5 1041.2v11.6"/><path d="M88.9 1051.5h2.0M89.5 1045.6v11.4"/><path d="M91.7 1042.5h3.4M93.5 1034.7v15.1"/><path d="M92.8 1043.5h1.9M93.5 1034.8v18.2"/><path d="M91.5 1053.5h2.0M92.5 1046.2v14.3"/><path d="M92.9 1039.5h2.0M93.5 1029.6v19.4"/><path d="M96.0 1056.5h2.9M97.5 1048.3v17.3"/><path d="M93.3 1046.5h2.2M94.5 1037.8v16.4"/><path d="M92.0 1050.5h1.9M92.5 1043.8v12.9"/><path d="M88.6 1052.5h2.8M90.5 1045.6v12.9"/><path d="M94.8 1046.5h2.4M96.5 1040.0v13.9"/><path d="M88.1 1037.5h1.9M89.5 1027.5v19.6"/><path d="M95.0 1047.5h3.8M96.5 1039.7v15.4"/><path d="M93.8 1038.5h2.7M95.5 1030.1v16.1"/><path d="M91.4 1049.5h2.5M92.5 1041.4v16.5"/><path d="M89.5 1046.5h2.7M90.5 1038.7v15.3"/><path d="M87.8 1041.5h3.3M89.5 1035.3v11.7"/><path d="M91.7 1056.5h3.1M93.5 1048.2v17.3"/><path d="M94.6 1056.5h2.6M95.5 1049.4v14.0"/><path d="M104.6 1030.5h2.8M106.5 1024.2v12.7"/><path d="M102.1 1046.5h3.6M103.5 1039.3v15.1"/><path d="M103.7 1031.5h3.2M105.5 1022.2v19.3"/><path d="M103.1 1041.5h2.9M104.5 1034.2v14.1"/><path d="M98.2 1034.5h3.5M99.5 1027.0v15.2"/><path d="M96.6 1044.5h3.5M98.5 1035.9v16.5"/><path d="M98.8 1051.5h2.2M99.5 1044.4v15.1"/><path d="M101.7 1033.5h2.4M102.5 1027.9v11.9"/><path d="M98.2 1030.5h3.2M99.5 1022.6v16.7"/><path d="M99.3 1051.5h2.7M100.5 1044.6v14.6"/><path d="M106.4 1044.5h2.8M107.5 1036.2v17.5"/><path d="M104.9 1037.5h1.9M105.5 1028.4v17.3"/><path d="M104.9 1043.5h2.0M105.5 1035.1v17.4"/><path d="M98.3 1048.5h3.1M99.5 1040.2v16.4"/><path d="M97.1 1038.5h3.3M98.5 1032.8v11.1"/><path d="M96.6 1039.5h3.6M98.5 1031.4v16.3"/><path d="M108.7 1031.5h3.6M110.5 1021.9v18.4"/><path d="M112.5 1032.5h3.4M114.5 1027.8v10.1"/><path d="M108.1 1034.5h3.8M109.5 1029.3v10.4"/><path d="M108.2 1040.5h3.4M109.5 1033.9v12.7"/><path d="M107.3 1041.5h3.8M109.5 1032.4v19.1"/><path d="M111.5 1031.5h3.4M113.5 1022.9v16.5"/><path d="M113.8 1040.5h2.9M115.5 1030.7v19.8"/><path d="M110.7 1036.5h3.1M112.5 1027.3v17.9"/></g>
<g fill="none" stroke="#1414dc" stroke-opacity="0.85" stroke-width="1.1"><path d="M93.1 1053.5h2.4M94.5 1048.3v9.8"/><path d="M96.0 1044.5h1.9M96.5 1040.8v8.2"/><path d="M93.1 1053.5h3.0M94.5 1049.0v8.9"/><path d="M94.2 1042.5h3.2M95.5 1038.7v7.3"/><path d="M89.7 1043.5h2.6M90.5 1039.4v8.9"/><path d="M93.0 1044.5h1.9M93.5 1039.9v9.2"/><path d="M94.1 1051.5h3.5M95.5 1049.1v5.2"/><path d="M90.3 1046.5h2.4M91.5 1041.8v9.4"/><path d="M89.5 1040.5h2.7M90.5 1037.7v5.1"/><path d="M87.7 1048.5h3.1M89.5 1044.6v7.8"/><path d="M88.2 1047.5h2.9M89.5 1044.6v6.5"/><path d="M89.6 1042.5h2.8M91.5 1038.8v6.9"/><path d="M93.1 1049.5h2.4M94.5 1045.3v8.2"/><path d="M90.2 1050.5h2.2M91.5 1046.4v8.1"/><path d="M94.2 1051.5h2.9M95.5 1046.2v9.9"/><path d="M96.6 1051.5h2.6M97.5 1047.9v6.3"/></g>
<g fill="none" stroke="#1414dc" stroke-opacity="0.5" stroke-width="0.9"><path d="M98.5 1036.5h1.9M99.5 1033.4v6.8"/><path d="M98.8 1042.5h3.2M100.5 1036.3v12.5"/><path d="M94.7 1041.5h2.1M95.5 1038.3v6.4"/><path d="M78.3 1053.5h2.1M79.5 1050.1v6.1"/><path d="M111.7 1042.5h3.0M113.5 1037.6v9.6"/><path d="M111.6 1035.5h2.4M112.5 1030.2v11.2"/><path d="M74.9 1054.5h2.2M75.5 1048.5v11.4"/><path d="M77.2 1035.5h1.7M78.5 1029.6v12.3"/><path d="M110.5 1054.5h2.5M111.5 1050.8v6.7"/><path d="M103.8 1045.5h3.0M105.5 1039.6v11.1"/><path d="M96.2 1037.5h1.8M97.5 1034.4v6.7"/><path d="M90.2 1040.5h3.3M91.5 1037.2v6.4"/><path d="M103.7 1036.5h1.7M104.5 1029.9v13.4"/><path d="M82.3 1047.5h2.6M83.5 1042.5v9.2"/><path d="M87.2 1037.5h2.8M88.5 1032.6v9.0"/><path d="M97.6 1052.5h1.7M98.5 1047.3v9.4"/><path d="M87.4 1054.5h2.7M88.5 1050.7v7.6"/><path d="M91.6 1034.5h2.5M92.5 1031.0v6.6"/><path d="M79.1 1045.5h2.5M80.5 1041.3v7.7"/><path d="M96.3 1040.5h2.8M97.5 1037.6v6.4"/><path d="M106.9 1043.5h1.9M107.5 1039.7v8.3"/><path d="M97.9 1036.5h3.2M99.5 1032.2v7.8"/><path d="M89.8 1035.5h2.4M91.5 1028.8v13.7"/><path d="M81.0 1037.5h2.6M82.5 1032.4v11.1"/><path d="M79.2 1038.5h2.7M80.5 1034.9v7.9"/><path d="M74.5 1049.5h3.1M76.5 1043.1v12.4"/><path d="M107.3 1038.5h2.1M108.5 1033.3v10.8"/><path d="M97.7 1047.5h2.6M99.5 1043.8v7.9"/><path d="M83.5 1035.5h1.7M84.5 1030.5v10.6"/><path d="M76.7 1053.5h3.3M78.5 1049.7v7.2"/><path d="M111.9 1047.5h1.6M112.5 1043.2v9.1"/><path d="M88.2 1040.5h1.7M89.5 1036.8v7.9"/><path d="M74.5 1043.5h2.4M75.5 1039.9v7.9"/><path d="M109.8 1053.5h2.5M111.5 1047.3v12.4"/><path d="M87.3 1050.5h3.0M88.5 1046.2v8.8"/><path d="M102.9 1041.5h1.9M103.5 1037.1v9.4"/><path d="M78.4 1049.5h2.0M79.5 1044.8v10.0"/><path d="M104.9 1047.5h3.2M106.5 1041.3v11.8"/><path d="M100.6 1050.5h2.8M102.5 1043.6v13.3"/><path d="M96.9 1048.5h2.6M98.5 1043.4v10.3"/><path d="M110.8 1040.5h1.9M111.5 1035.6v10.0"/><path d="M85.8 1049.5h2.7M87.5 1046.7v6.0"/><path d="M82.0 1047.5h2.3M83.5 1041.9v11.4"/><path d="M91.9 1036.5h2.8M93.5 1029.6v13.8"/><path d="M77.2 1047.5h2.7M78.5 1042.1v10.9"/></g>
<g fill="none" stroke="#1414dc" stroke-opacity="0.85" stroke-width="1.2"><path d="M91.5 1047.5h3.1M93.5 1044.0v7.3"/><path d="M90.8 1052.5h2.6M92.5 1048.7v7.0"/><path d="M99.1 1041.5h1.8M99.5 1038.8v4.6"/><path d="M96.6 1053.5h1.8M97.5 1051.0v5.6"/><path d="M97.2 1050.5h2.4M98.5 1047.2v7.4"/><path d="M97.4 1041.5h3.1M98.5 1039.0v4.8"/><path d="M93.6 1051.5h1.9M94.5 1048.9v4.9"/><path d="M97.1 1051.5h3.1M98.5 1049.9v4.0"/><path d="M93.2 1051.5h3.0M94.5 1047.8v6.6"/><path d="M89.1 1041.5h1.7M89.5 1039.2v4.7"/><path d="M93.1 1044.5h1.7M93.5 1042.9v4.0"/><path d="M94.8 1052.5h1.6M95.5 1049.3v5.8"/><path d="M98.6 1045.5h2.3M99.5 1041.9v7.0"/><path d="M85.0 1053.5h2.7M86.5 1049.7v6.7"/></g>
<g fill="none" stroke="#1414dc" stroke-opacity="0.5" stroke-width="0.9"><path d="M90.1 1020.5h3.8M91.5 1014.5v12.7"/><path d="M89.5 1022.5h3.8M91.5 1016.1v13.8"/><path d="M89.9 1020.5h3.5M91.5 1011.1v18.8"/><path d="M91.6 1014.5h2.2M92.5 1005.2v19.0"/><path d="M97.7 994.5h2.0M98.5 986.8v15.8"/><path d="M96.9 1001.5h2.2M97.5 995.2v12.9"/><path d="M96.9 1019.5h3.1M98.5 1008.1v23.0"/><path d="M96.0 1009.5h2.6M97.5 998.8v22.2"/><path d="M96.5 1009.5h3.7M98.5 998.1v23.5"/><path d="M100.3 1008.5h2.0M101.5 999.6v18.7"/><path d="M100.1 1015.5h2.5M101.5 1009.4v12.1"/><path d="M101.4 1001.5h2.4M102.5 992.0v18.2"/><path d="M99.5 1017.5h3.3M101.5 1010.6v13.4"/><path d="M107.4 983.5h2.9M108.5 977.0v13.1"/><path d="M106.4 992.5h2.9M107.5 982.7v19.8"/><path d="M108.5 989.5h2.5M109.5 982.1v14.5"/><path d="M108.1 990.5h2.2M109.5 983.1v14.3"/><path d="M106.9 1003.5h2.7M108.5 992.5v21.8"/><path d="M107.2 996.5h2.3M108.5 987.8v16.9"/><path d="M113.8 986.5h2.8M115.5 979.0v15.0"/><path d="M112.8 994.5h2.2M113.5 984.7v18.9"/><path d="M111.9 991.5h2.4M113.5 984.1v14.2"/><path d="M113.7 1004.5h3.7M115.5 997.8v13.6"/><path d="M112.1 993.5h2.9M113.5 982.4v22.0"/><path d="M114.6 1009.5h1.8M115.5 1003.6v12.3"/><path d="M113.1 996.5h1.8M114.5 988.8v16.2"/><path d="M112.3 1010.5h2.2M113.5 1002.3v15.8"/><path d="M118.6 1001.5h2.0M119.5 993.3v17.3"/><path d="M118.1 977.5h3.9M120.5 967.6v20.6"/><path d="M123.5 982.5h3.9M125.5 970.4v23.6"/><path d="M123.5 977.5h1.9M124.5 967.8v18.5"/><path d="M120.9 1002.5h3.9M122.5 991.6v21.8"/><path d="M118.8 1007.5h3.1M120.5 1001.2v12.5"/><path d="M118.2 1006.5h3.5M119.5 995.9v20.9"/><path d="M122.8 968.5h3.8M124.5 961.1v15.6"/><path d="M124.4 989.5h2.8M125.5 980.4v18.3"/><path d="M126.0 1001.5h2.6M127.5 990.3v22.2"/><path d="M118.4 981.5h2.5M119.5 975.7v12.6"/><path d="M120.1 968.5h3.8M121.5 957.2v21.8"/><path d="M121.6 970.5h2.4M122.5 959.8v21.3"/><path d="M119.5 971.5h2.7M120.5 962.3v18.9"/><path d="M117.6 983.5h3.0M119.5 972.6v20.9"/><path d="M120.9 1007.5h2.3M122.5 997.2v21.0"/></g>
<g fill="none" stroke="#1414dc" stroke-opacity="0.75" stroke-width="1.0"><path d="M117.6 1001.5h2.4M118.5 997.5v8.7"/><path d="M125.3 1000.5h1.7M126.5 993.7v14.6"/><path d="M126.2 987.5h2.8M127.5 980.6v13.3"/><path d="M122.7 988.5h2.0M123.5 981.0v14.1"/><path d="M125.0 1002.5h1.6M125.5 996.6v12.0"/><path d="M124.3 983.5h1.5M125.5 976.3v14.7"/><path d="M124.8 996.5h2.0M125.5 991.1v10.9"/><path d="M124.8 980.5h2.7M126.5 973.9v13.1"/><path d="M121.4 1002.5h2.5M122.5 995.5v14.6"/><path d="M119.0 988.5h1.9M119.5 982.9v11.4"/><path d="M124.1 1003.5h3.0M125.5 996.6v14.4"/><path d="M126.4 997.5h2.7M127.5 993.1v8.0"/><path d="M121.3 990.5h1.6M122.5 983.3v14.8"/><path d="M120.9 984.5h1.6M121.5 978.5v11.7"/></g>
<g fill="none" stroke="#1414dc" stroke-opacity="0.45" stroke-width="0.8"><path d="M120.9 959.5h3.0M122.5 950.0v18.0"/></g>
<g fill="none" stroke="#20e020" stroke-opacity="0.55" stroke-width="0.9"><path d="M118.9 1007.5h2.5M120.5 1002.4v10.8"/><path d="M117.6 987.5h2.6M118.5 981.0v12.3"/><path d="M120.2 997.5h2.1M121.5 990.2v14.8"/><path d="M116.8 991.5h2.8M118.5 986.4v9.8"/><path d="M119.1 995.5h1.9M120.5 989.1v13.6"/><path d="M117.1 998.5h2.6M118.5 993.7v10.1"/><path d="M121.6 994.5h2.5M122.5 990.1v8.1"/></g>
<g fill="none" stroke="#20e020" stroke-opacity="0.5" stroke-width="0.9"><path d="M86.4 1044.5h2.5M87.5 1039.8v9.2"/><path d="M85.3 1044.5h2.9M86.5 1040.1v7.9"/><path d="M86.4 1045.5h1.8M87.5 1042.0v6.7"/><path d="M85.4 1045.5h2.9M86.5 1039.7v11.4"/></g>
<g fill="none" stroke="#e0141e" stroke-opacity="0.9" stroke-width="1.3"><path d="M72.6 1051.5h2.9M73.5 1049.3v4.7"/><path d="M71.2 1052.5h3.0M72.5 1049.6v6.3"/><path d="M73.4 1045.5h1.6M74.5 1043.3v5.0"/><path d="M70.5 1048.5h2.5M71.5 1045.8v6.2"/><path d="M75.1 1042.5h1.8M75.5 1040.0v4.0"/><path d="M71.5 1052.5h2.2M72.5 1048.6v7.0"/><path d="M70.1 1045.5h2.8M71.5 1043.5v4.8"/><path d="M73.6 1048.5h2.5M74.5 1046.7v3.7"/><path d="M71.6 1052.5h2.1M72.5 1050.4v4.8"/><path d="M75.2 1048.5h2.6M76.5 1045.7v5.6"/><path d="M73.3 1046.5h1.9M74.5 1043.9v4.8"/><path d="M71.0 1049.5h1.6M71.5 1047.6v4.1"/><path d="M72.1 1052.5h2.8M73.5 1049.7v6.4"/><path d="M73.8 1044.5h2.3M74.5 1042.4v3.7"/><path d="M72.8 1042.5h1.6M73.5 1040.3v4.1"/><path d="M71.6 1047.5h1.8M72.5 1045.3v3.9"/><path d="M69.6 1052.5h3.1M71.5 1048.7v7.4"/><path d="M69.8 1044.5h2.9M71.5 1042.4v3.7"/><path d="M69.8 1049.5h3.1M71.5 1045.4v7.5"/><path d="M74.2 1045.5h2.7M75.5 1041.7v7.5"/><path d="M74.5 1052.5h2.7M75.5 1049.2v6.9"/><path d="M73.5 1046.5h2.4M74.5 1042.9v7.5"/><path d="M72.8 1042.5h2.2M73.5 1038.7v7.3"/><path d="M73.2 1047.5h3.0M74.5 1043.9v6.8"/></g>
<g fill="none" stroke="#e0141e" stroke-opacity="0.5" stroke-width="0.8"><path d="M72.1 1018.5h2.4M73.5 1013.0v10.0"/><path d="M70.4 1033.5h2.4M71.5 1028.0v10.0"/><path d="M79.8 1040.5h2.4M81.5 1034.0v12.0"/><path d="M81.3 1038.5h2.4M82.5 1032.0v12.0"/><path d="M83.7 1028.5h2.4M84.5 1023.0v10.0"/><path d="M89.8 1032.5h2.4M91.5 1027.0v10.0"/><path d="M92.3 1033.5h2.4M93.5 1028.0v10.0"/></g>
<g fill="none" stroke="#1414dc" stroke-opacity="0.9" stroke-width="1.2"><path d="M73.2 1057.5h2.4M74.5 1055.5v3.6"/><path d="M74.9 1054.5h2.4M76.5 1053.1v3.7"/><path d="M73.9 1053.5h1.5M74.5 1050.6v6.4"/><path d="M74.5 1056.5h2.5M75.5 1054.8v4.1"/></g>
<g fill="none" stroke="#20e020" stroke-opacity="0.5" stroke-width="0.9"><path d="M138.3 972.5h2.8M139.5 965.7v13.4"/><path d="M140.3 979.5h2.3M141.5 973.3v13.4"/><path d="M139.8 974.5h2.6M141.5 967.1v14.4"/></g>
<g fill="none" stroke="#20e020" stroke-opacity="0.4" stroke-width="0.8"><path d="M151.0 965.5h2.0M152.5 958.0v14.0"/><path d="M143.4 1004.5h2.0M144.5 997.0v14.0"/></g>
<g fill="none" stroke="#e0141e" stroke-opacity="0.35" stroke-width="0.8"><path d="M138.9 1038.5h11.0M144.5 1030.0v16.0"/></g>
<g fill="none" stroke="#20e020" stroke-opacity="0.8" stroke-width="1.0"><path d="M172.6 983.5h1.5M173.5 978.1v10.9"/><path d="M171.9 984.5h2.9M173.5 978.7v11.3"/><path d="M170.8 983.5h2.5M172.5 978.4v10.4"/><path d="M171.1 1000.5h1.8M172.5 995.0v11.8"/><path d="M172.3 982.5h2.6M173.5 977.9v9.8"/></g>
<g fill="none" stroke="#1414dc" stroke-opacity="0.4" stroke-width="0.8"><path d="M177.3 982.5h4.4M179.5 973.7v18.3"/><path d="M175.6 977.5h6.2M178.5 969.6v15.0"/><path d="M176.5 962.5h5.5M179.5 947.7v30.4"/><path d="M170.5 989.5h4.4M172.5 982.0v15.5"/><path d="M175.7 985.5h5.8M178.5 977.7v15.0"/><path d="M167.9 972.5h5.9M170.5 965.4v14.8"/><path d="M167.1 979.5h4.4M169.5 965.4v28.6"/><path d="M176.1 973.5h5.6M178.5 963.1v20.4"/><path d="M176.2 992.5h3.2M177.5 981.9v22.3"/></g>
<g fill="none" stroke="#1414dc" stroke-opacity="0.45" stroke-width="0.8"><path d="M184.4 1023.5h5.9M187.5 1014.8v17.3"/><path d="M183.7 1024.5h7.1M187.5 1015.6v17.2"/><path d="M183.2 1019.5h4.7M185.5 1009.5v20.3"/><path d="M184.3 1024.5h8.0M188.5 1016.0v16.0"/><path d="M195.0 1026.5h6.0M198.5 1018.6v16.0"/></g>
<g fill="none" stroke="#1414dc" stroke-opacity="0.5" stroke-width="0.8"><path d="M115.0 1038.5h2.0M116.5 1034.0v8.0"/></g>
<g fill="none" stroke="#1414dc" stroke-opacity="0.45" stroke-width="0.8"><path d="M242.0 948.5h7.7M245.5 939.9v17.4"/><path d="M242.6 944.5h5.7M245.5 934.7v20.3"/><path d="M245.0 941.5h6.5M248.5 933.5v16.7"/><path d="M238.6 939.5h5.4M241.5 931.3v17.2"/><path d="M251.6 929.5h5.2M254.5 923.5v12.5"/><path d="M255.4 937.5h5.5M258.5 927.5v20.4"/><path d="M251.5 948.5h5.7M254.5 942.5v11.0"/><path d="M242.9 926.5h5.3M245.5 919.0v14.7"/><path d="M244.9 951.5h5.8M247.5 945.7v11.5"/><path d="M238.5 943.5h5.8M241.5 935.9v14.2"/><path d="M244.9 935.5h6.4M248.5 927.4v16.2"/><path d="M236.2 937.5h4.7M238.5 929.8v16.1"/><path d="M243.6 945.5h7.7M247.5 936.3v17.9"/><path d="M248.7 938.5h4.1M250.5 929.3v17.8"/><path d="M238.7 934.5h6.1M241.5 928.3v12.6"/><path d="M252.2 939.5h7.7M256.5 934.4v9.8"/><path d="M244.5 933.5h6.0M247.5 924.6v16.9"/><path d="M247.5 950.5h5.5M250.5 943.4v13.7"/><path d="M260.0 930.5h6.0M263.5 922.0v16.0"/><path d="M266.0 920.5h6.0M269.5 912.0v16.0"/><path d="M263.0 922.5h6.0M266.5 914.0v16.0"/><path d="M268.5 1038.5h7.0M272.5 1028.0v20.0"/><path d="M275.5 1033.5h7.0M279.5 1023.0v20.0"/><path d="M280.3 1029.5h7.0M283.5 1019.6v20.0"/><path d="M282.5 1036.5h7.0M286.5 1026.7v20.0"/><path d="M283.9 1020.5h7.0M287.5 1010.0v20.0"/><path d="M293.5 1026.5h7.0M297.5 1016.0v20.0"/><path d="M299.3 1013.5h7.0M302.5 1003.0v20.0"/><path d="M302.5 1020.5h7.0M306.5 1010.0v20.0"/><path d="M305.3 1023.5h7.0M308.5 1013.6v20.0"/><path d="M301.5 1015.5h7.0M305.5 1005.0v20.0"/><path d="M197.5 1026.5h5.0M200.5 1015.0v22.0"/><path d="M200.5 1028.5h5.0M203.5 1018.0v20.0"/><path d="M208.4 1031.5h6.0M211.5 1020.0v22.0"/></g>
<circle cx="361.5" cy="883.5" r="0.8" fill="#20e020"/>
<g fill="none" stroke="#20e020" stroke-opacity="0.3" stroke-width="0.8"><path d="M497.6 338.5h47.4M521.5 338.9v0.0"/><path d="M521.3 342.5h0.0M521.5 298.0v88.0"/></g>
<g fill="none" stroke="#1414dc" stroke-opacity="0.5" stroke-width="0.9"><path d="M492.1 409.5h2.4M493.5 402.3v15.4"/><path d="M488.1 397.5h2.9M489.5 389.4v15.3"/><path d="M492.4 417.5h3.1M493.5 411.0v12.1"/><path d="M488.7 399.5h2.7M490.5 392.1v14.7"/><path d="M490.1 421.5h3.5M491.5 415.3v12.3"/><path d="M490.3 406.5h3.7M492.5 398.9v14.7"/><path d="M487.6 419.5h3.2M489.5 413.9v10.9"/><path d="M491.6 406.5h3.3M493.5 400.4v12.0"/><path d="M490.6 419.5h3.7M492.5 413.9v11.8"/><path d="M489.1 414.5h3.2M490.5 409.9v8.8"/><path d="M490.0 402.5h3.2M491.5 397.9v9.3"/><path d="M488.9 401.5h2.4M490.5 395.5v12.5"/><path d="M502.5 408.5h3.2M504.5 401.9v14.1"/><path d="M499.2 405.5h3.2M500.5 400.4v9.7"/><path d="M501.4 413.5h3.6M503.5 409.4v8.5"/><path d="M503.4 401.5h2.1M504.5 395.3v12.9"/><path d="M498.9 401.5h3.1M500.5 394.9v12.3"/><path d="M500.2 406.5h3.1M501.5 399.6v14.2"/><path d="M501.3 410.5h3.5M503.5 404.1v11.8"/><path d="M501.5 399.5h2.0M502.5 394.1v11.6"/><path d="M508.9 393.5h3.8M510.5 388.7v10.3"/><path d="M507.5 399.5h3.8M509.5 395.1v9.2"/><path d="M506.5 403.5h2.6M507.5 398.5v10.7"/><path d="M505.6 410.5h2.7M506.5 404.6v12.6"/><path d="M506.7 411.5h2.0M507.5 404.6v13.6"/><path d="M505.2 401.5h2.5M506.5 393.5v15.6"/><path d="M508.1 408.5h1.9M509.5 404.0v9.9"/><path d="M512.0 397.5h1.9M512.5 392.2v10.1"/><path d="M507.2 401.5h2.6M508.5 396.0v10.4"/><path d="M508.2 399.5h2.2M509.5 393.7v12.1"/><path d="M508.4 402.5h3.4M510.5 396.5v11.6"/><path d="M506.5 411.5h2.0M507.5 406.4v10.4"/><path d="M507.8 398.5h2.2M508.5 390.9v14.9"/><path d="M506.6 401.5h3.1M508.5 397.2v9.0"/><path d="M515.4 386.5h2.9M516.5 379.1v13.8"/><path d="M519.7 404.5h2.0M520.5 398.8v11.7"/><path d="M517.1 391.5h3.8M518.5 385.6v12.0"/><path d="M519.5 384.5h2.6M520.5 377.8v13.6"/><path d="M518.7 394.5h3.6M520.5 387.4v14.1"/><path d="M515.3 399.5h2.9M516.5 394.8v8.9"/><path d="M519.3 402.5h3.7M521.5 397.5v9.9"/><path d="M518.6 383.5h2.8M519.5 378.7v10.4"/><path d="M516.1 391.5h3.0M517.5 386.1v11.5"/><path d="M518.6 398.5h2.4M519.5 393.3v9.6"/><path d="M520.8 379.5h2.7M522.5 373.8v12.0"/><path d="M523.7 395.5h2.3M524.5 390.4v10.4"/><path d="M522.0 372.5h3.1M523.5 368.0v8.3"/><path d="M522.7 386.5h2.6M523.5 378.1v15.9"/><path d="M521.5 372.5h2.0M522.5 367.5v9.9"/><path d="M523.4 389.5h2.5M524.5 382.2v15.1"/><path d="M526.3 368.5h3.0M527.5 362.7v12.3"/><path d="M529.1 371.5h3.7M530.5 364.7v13.1"/><path d="M529.3 379.5h2.2M530.5 373.0v12.5"/><path d="M530.5 362.5h2.5M531.5 357.2v10.5"/><path d="M526.7 385.5h3.2M528.5 380.6v9.1"/><path d="M529.6 388.5h1.9M530.5 384.3v8.2"/><path d="M528.5 388.5h3.0M530.5 382.4v12.0"/><path d="M535.6 372.5h3.7M537.5 366.3v12.8"/><path d="M537.6 370.5h3.7M539.5 363.0v14.2"/><path d="M536.8 365.5h2.4M538.5 357.9v15.8"/><path d="M537.4 359.5h2.9M538.5 354.1v11.4"/><path d="M536.7 365.5h3.7M538.5 359.4v11.9"/><path d="M538.1 364.5h3.7M539.5 358.6v12.4"/><path d="M536.4 369.5h3.8M538.5 363.0v12.5"/></g>
<g fill="none" stroke="#1414dc" stroke-opacity="0.85" stroke-width="1.1"><path d="M508.6 400.5h2.2M509.5 397.3v6.3"/><path d="M508.4 398.5h1.6M509.5 395.5v6.8"/><path d="M506.3 404.5h1.6M507.5 400.0v9.9"/><path d="M507.4 399.5h2.4M508.5 395.9v6.4"/><path d="M509.1 399.5h3.0M510.5 397.0v5.0"/><path d="M506.0 408.5h2.6M507.5 405.1v6.3"/><path d="M509.1 400.5h2.3M510.5 397.2v6.3"/><path d="M508.3 404.5h2.9M509.5 401.6v6.2"/><path d="M508.4 403.5h2.9M509.5 399.8v7.5"/><path d="M510.3 408.5h2.1M511.5 405.3v7.1"/></g>
<g fill="none" stroke="#1414dc" stroke-opacity="0.45" stroke-width="0.9"><path d="M517.7 408.5h2.5M519.5 403.4v10.7"/><path d="M506.0 407.5h2.8M507.5 403.6v7.6"/><path d="M498.7 396.5h2.9M500.5 390.7v10.9"/><path d="M510.1 417.5h2.9M511.5 414.1v6.6"/><path d="M497.4 416.5h1.8M498.5 410.6v11.3"/><path d="M512.5 399.5h1.9M513.5 394.0v10.4"/><path d="M507.6 396.5h2.5M508.5 393.1v7.1"/><path d="M514.7 407.5h1.6M515.5 403.6v8.4"/><path d="M486.7 415.5h3.2M488.5 410.8v10.3"/><path d="M487.1 416.5h2.0M488.5 411.7v9.9"/><path d="M511.5 408.5h1.8M512.5 404.6v7.5"/><path d="M510.3 398.5h2.2M511.5 392.9v11.6"/><path d="M499.7 399.5h2.7M501.5 395.3v8.1"/><path d="M511.7 404.5h3.1M513.5 398.6v11.0"/><path d="M492.5 408.5h2.4M493.5 404.7v6.7"/><path d="M515.9 403.5h2.7M517.5 400.3v6.4"/><path d="M517.0 417.5h2.8M518.5 414.2v6.8"/><path d="M508.0 406.5h2.4M509.5 402.7v7.3"/><path d="M491.5 414.5h2.7M492.5 409.3v10.5"/><path d="M510.4 404.5h2.6M511.5 400.9v7.8"/><path d="M507.5 405.5h3.0M508.5 401.6v7.8"/><path d="M499.4 397.5h1.6M500.5 394.2v7.3"/><path d="M487.4 405.5h2.3M488.5 399.7v11.3"/><path d="M488.5 417.5h1.7M489.5 412.2v11.0"/><path d="M498.1 401.5h2.7M499.5 397.3v8.1"/><path d="M487.1 398.5h2.8M488.5 393.7v10.3"/><path d="M518.3 401.5h3.0M519.5 397.5v8.1"/><path d="M503.4 402.5h2.3M504.5 396.4v11.5"/><path d="M494.4 405.5h3.2M496.5 401.0v8.7"/><path d="M512.9 407.5h2.2M514.5 402.6v10.3"/></g>
<g fill="none" stroke="#1414dc" stroke-opacity="0.85" stroke-width="1.1"><path d="M490.7 409.5h3.1M492.5 407.3v5.3"/><path d="M491.9 414.5h2.6M493.5 410.6v7.5"/><path d="M491.5 405.5h2.6M492.5 400.7v9.6"/><path d="M489.7 414.5h2.6M491.5 410.8v7.6"/><path d="M492.0 411.5h1.6M492.5 407.4v7.7"/><path d="M491.7 407.5h2.2M492.5 402.4v9.5"/></g>
<g fill="none" stroke="#1414dc" stroke-opacity="0.9" stroke-width="1.2"><path d="M528.5 374.5h2.0M529.5 371.5v5.1"/><path d="M529.2 372.5h1.9M530.5 369.9v4.3"/><path d="M528.4 374.5h3.1M529.5 370.9v6.6"/></g>
<g fill="none" stroke="#1414dc" stroke-opacity="0.35" stroke-width="0.8"><path d="M514.2 363.5h3.7M516.5 360.6v5.7"/><path d="M513.5 364.5h1.8M514.5 360.9v7.7"/><path d="M513.7 365.5h3.1M515.5 362.3v6.1"/></g>
<g fill="none" stroke="#e0141e" stroke-opacity="0.85" stroke-width="1.2"><path d="M484.8 401.5h3.0M486.5 397.8v6.5"/><path d="M487.6 394.5h2.6M488.5 390.8v8.3"/><path d="M486.4 396.5h2.2M487.5 392.4v8.8"/><path d="M489.1 400.5h2.5M490.5 397.1v6.0"/><path d="M488.5 407.5h3.8M490.5 403.4v8.4"/><path d="M487.5 395.5h3.8M489.5 393.2v5.0"/><path d="M488.8 399.5h1.9M489.5 395.6v7.4"/><path d="M486.2 407.5h2.2M487.5 403.6v7.5"/><path d="M487.0 394.5h2.4M488.5 391.9v5.7"/><path d="M488.0 405.5h3.8M489.5 403.1v5.0"/><path d="M485.8 399.5h2.5M487.5 397.0v5.2"/><path d="M488.3 394.5h2.9M489.5 391.7v4.9"/></g>
<g fill="none" stroke="#e0141e" stroke-opacity="0.35" stroke-width="0.8"><path d="M493.7 385.5h3.0M495.5 378.9v13.9"/><path d="M499.5 376.5h1.8M500.5 369.6v13.1"/><path d="M504.1 352.5h2.7M505.5 347.5v10.7"/><path d="M508.4 340.5h2.3M509.5 332.9v15.3"/><path d="M500.4 373.5h3.0M501.5 367.7v10.5"/><path d="M496.0 369.5h2.9M497.5 362.5v14.8"/><path d="M491.1 388.5h2.1M492.5 383.7v8.9"/><path d="M511.8 347.5h2.4M513.5 342.8v8.7"/><path d="M494.5 383.5h2.1M495.5 378.2v10.9"/><path d="M497.8 377.5h3.0M499.5 371.6v12.4"/><path d="M490.7 388.5h2.3M491.5 384.1v9.4"/><path d="M507.1 355.5h3.1M508.5 348.6v14.5"/><path d="M496.0 369.5h2.1M497.5 364.9v8.6"/><path d="M499.7 371.5h1.5M500.5 364.1v14.6"/><path d="M487.5 399.5h1.9M488.5 394.1v9.8"/><path d="M500.1 360.5h2.3M501.5 355.8v8.5"/><path d="M490.1 400.5h1.7M490.5 395.2v10.4"/><path d="M492.6 391.5h2.2M493.5 383.9v14.3"/><path d="M491.1 391.5h2.3M492.5 383.4v15.4"/><path d="M499.2 371.5h2.3M500.5 365.4v12.0"/><path d="M500.2 358.5h3.1M501.5 350.9v15.7"/><path d="M504.1 349.5h1.8M504.5 344.5v9.6"/><path d="M505.7 351.5h2.7M507.5 347.1v9.1"/><path d="M495.0 384.5h2.8M496.5 379.8v10.1"/><path d="M502.8 356.5h2.6M504.5 349.7v13.7"/><path d="M491.9 388.5h1.9M492.5 381.1v14.2"/><path d="M490.1 393.5h2.4M491.5 388.8v9.4"/><path d="M498.5 379.5h2.3M499.5 375.8v8.3"/><path d="M496.7 388.5h1.7M497.5 383.7v9.4"/><path d="M491.0 389.5h1.9M491.5 384.5v10.5"/></g>
<g fill="none" stroke="#e0141e" stroke-opacity="0.5" stroke-width="0.8"><path d="M491.2 389.5h2.4M492.5 384.0v11.1"/><path d="M490.8 390.5h1.9M491.5 382.9v15.3"/><path d="M491.1 384.5h1.6M491.5 375.7v16.9"/><path d="M492.7 383.5h2.0M493.5 375.7v15.1"/><path d="M491.4 392.5h1.4M492.5 385.9v14.2"/><path d="M495.2 369.5h3.1M496.5 362.6v14.4"/><path d="M494.6 381.5h1.5M495.5 373.4v15.5"/><path d="M496.8 378.5h1.5M497.5 373.5v10.5"/><path d="M496.5 382.5h1.9M497.5 374.2v17.4"/><path d="M496.0 368.5h2.9M497.5 363.1v10.1"/><path d="M500.7 355.5h1.8M501.5 348.4v14.0"/><path d="M499.8 375.5h1.8M500.5 367.4v15.5"/><path d="M500.5 373.5h2.4M501.5 366.9v14.0"/><path d="M502.1 364.5h2.2M503.5 358.9v11.4"/><path d="M502.2 366.5h2.2M503.5 357.4v17.9"/><path d="M501.3 369.5h1.7M502.5 362.8v12.9"/><path d="M507.0 343.5h3.1M508.5 334.4v17.9"/><path d="M507.6 351.5h1.9M508.5 343.1v16.2"/><path d="M508.2 346.5h2.4M509.5 339.2v15.2"/><path d="M506.1 339.5h1.7M506.5 332.7v14.2"/><path d="M507.6 353.5h1.9M508.5 347.9v11.3"/><path d="M511.6 339.5h1.9M512.5 332.2v13.9"/><path d="M511.6 338.5h1.7M512.5 331.5v13.8"/></g>
<g fill="none" stroke="#20e020" stroke-opacity="0.7" stroke-width="1.0"><path d="M534.3 363.5h2.5M535.5 358.2v10.0"/><path d="M535.6 377.5h2.5M536.5 373.9v6.6"/><path d="M534.6 364.5h1.9M535.5 361.6v6.5"/><path d="M535.1 371.5h1.9M536.5 368.0v7.6"/><path d="M535.7 369.5h2.6M536.5 366.1v7.7"/></g>
<g fill="none" stroke="#20e020" stroke-opacity="0.5" stroke-width="0.9"><path d="M538.7 376.5h2.3M539.5 373.3v6.8"/><path d="M538.0 363.5h1.8M538.5 357.7v11.5"/><path d="M537.2 366.5h2.0M538.5 360.5v12.8"/><path d="M537.2 370.5h2.3M538.5 367.7v6.3"/><path d="M515.7 378.5h2.0M516.5 374.9v8.3"/><path d="M517.0 384.5h1.9M517.5 380.0v8.3"/><path d="M514.9 380.5h2.0M515.5 374.8v10.8"/></g>
<g fill="none" stroke="#20e020" stroke-opacity="0.5" stroke-width="0.8"><path d="M516.0 413.5h2.0M517.5 408.0v10.0"/></g>
<g fill="none" stroke="#20e020" stroke-opacity="0.75" stroke-width="0.9"><path d="M554.3 332.5h1.5M555.5 327.5v9.2"/><path d="M553.4 332.5h2.9M554.5 327.3v10.2"/><path d="M554.4 330.5h2.8M555.5 326.1v9.1"/><path d="M552.2 332.5h2.8M553.5 328.9v7.5"/><path d="M553.4 338.5h1.8M554.5 336.0v5.8"/></g>
<g fill="none" stroke="#20e020" stroke-opacity="0.4" stroke-width="0.8"><path d="M567.7 320.5h2.0M568.5 314.0v12.0"/></g>
<g fill="none" stroke="#e0141e" stroke-opacity="0.4" stroke-width="0.8"><path d="M553.6 352.5h12.0M559.5 344.9v16.0"/></g>
<g fill="none" stroke="#20e020" stroke-opacity="0.85" stroke-width="1.0"><path d="M588.1 342.5h2.6M589.5 340.4v4.9"/><path d="M585.8 332.5h2.6M587.5 327.7v10.2"/><path d="M586.1 338.5h2.6M587.5 336.2v5.0"/><path d="M589.1 334.5h2.1M590.5 329.5v9.2"/><path d="M588.1 338.5h1.5M588.5 334.0v8.3"/><path d="M586.2 340.5h2.7M587.5 336.5v8.4"/><path d="M587.8 342.5h2.8M589.5 338.3v8.8"/></g>
<g fill="none" stroke="#1414dc" stroke-opacity="0.4" stroke-width="0.8"><path d="M599.0 398.5h6.0M602.5 391.0v14.0"/><path d="M602.0 392.5h6.0M605.5 385.0v14.0"/><path d="M614.0 397.5h6.0M617.5 390.0v14.0"/><path d="M617.0 395.5h6.0M620.5 388.0v14.0"/><path d="M601.0 393.5h6.0M604.5 386.0v14.0"/><path d="M624.6 397.5h6.0M627.5 390.0v14.0"/><path d="M625.7 402.5h6.0M628.5 395.0v14.0"/></g>
<g fill="none" stroke="#1414dc" stroke-opacity="0.45" stroke-width="0.8"><path d="M654.9 223.5h7.8M658.5 219.4v7.7"/><path d="M649.8 234.5h7.8M653.5 228.8v10.9"/><path d="M654.2 223.5h4.3M656.5 218.2v10.2"/><path d="M654.9 228.5h7.3M658.5 220.3v15.6"/><path d="M665.4 226.5h6.5M668.5 222.4v8.6"/><path d="M657.9 232.5h4.9M660.5 225.6v13.8"/><path d="M653.1 238.5h6.8M656.5 232.0v12.5"/><path d="M650.7 225.5h7.0M654.5 217.7v15.3"/><path d="M653.4 235.5h6.8M656.5 228.4v14.5"/><path d="M653.2 226.5h3.9M655.5 220.4v13.0"/><path d="M656.6 236.5h4.3M658.5 230.0v12.6"/><path d="M654.3 231.5h6.1M657.5 223.7v15.2"/><path d="M654.2 237.5h3.8M656.5 233.5v8.7"/><path d="M660.6 224.5h7.1M664.5 217.2v14.7"/><path d="M653.3 236.5h6.3M656.5 228.7v15.4"/><path d="M657.3 229.5h7.3M660.5 225.3v9.4"/><path d="M669.5 220.5h5.0M672.5 214.6v12.0"/><path d="M677.2 225.5h5.0M679.5 219.0v12.0"/><path d="M682.5 215.5h5.0M685.5 209.0v12.0"/><path d="M647.5 228.5h5.0M650.5 222.0v12.0"/></g>
<g fill="none" stroke="#1414dc" stroke-opacity="0.4" stroke-width="0.8"><path d="M683.5 397.5h7.0M687.5 390.0v14.0"/><path d="M691.1 395.5h7.0M694.5 388.0v14.0"/><path d="M698.5 400.5h7.0M702.5 393.0v14.0"/><path d="M699.5 403.5h7.0M703.5 396.0v14.0"/><path d="M709.1 401.5h7.0M712.5 394.0v14.0"/><path d="M715.5 403.5h7.0M719.5 396.0v14.0"/><path d="M717.5 395.5h7.0M721.5 388.0v14.0"/><path d="M719.5 398.5h7.0M723.5 391.0v14.0"/><path d="M722.9 400.5h7.0M726.5 393.0v14.0"/><path d="M718.5 393.5h7.0M722.5 386.0v14.0"/></g>
<circle cx="777.8" cy="241.0" r="0.8" fill="#20e020"/>
<g fill="none" stroke="#1414dc" stroke-opacity="0.3" stroke-width="0.9"><path d="M526.0 543.5h2.4M527.5 495.4v95.8"/><path d="M522.6 551.5h2.4M523.5 523.0v56.6"/><path d="M515.0 565.5h2.4M516.5 539.2v51.6"/><path d="M510.6 561.5h2.4M511.5 515.9v91.5"/><path d="M503.3 537.5h2.4M504.5 496.6v82.6"/><path d="M513.5 552.5h2.4M514.5 493.1v117.8"/><path d="M488.2 561.5h2.4M489.5 544.7v33.6"/><path d="M524.1 558.5h2.4M525.5 527.6v60.9"/><path d="M490.6 556.5h2.4M491.5 532.6v48.2"/><path d="M528.9 548.5h2.4M530.5 526.5v44.8"/><path d="M486.7 566.5h2.4M487.5 540.3v53.3"/><path d="M510.3 571.5h2.4M511.5 528.9v84.7"/><path d="M492.2 571.5h2.4M493.5 549.3v44.6"/><path d="M506.7 531.5h2.4M507.5 480.6v101.8"/><path d="M494.4 566.5h2.4M495.5 534.2v64.1"/><path d="M497.5 554.5h2.4M498.5 533.9v41.8"/><path d="M489.3 570.5h2.4M490.5 548.0v44.8"/><path d="M506.0 550.5h2.4M507.5 479.2v142.0"/><path d="M486.9 558.5h2.4M488.5 545.3v27.0"/><path d="M498.8 548.5h2.4M500.5 504.0v89.7"/><path d="M516.9 558.5h2.4M518.5 509.9v96.6"/><path d="M489.2 559.5h2.4M490.5 534.5v49.8"/><path d="M507.2 537.5h2.4M508.5 499.3v76.3"/><path d="M491.9 551.5h2.4M493.5 529.3v43.5"/><path d="M514.4 569.5h2.4M515.5 537.5v63.4"/><path d="M494.9 568.5h2.4M496.5 541.4v54.3"/><path d="M498.6 564.5h2.4M499.5 545.7v38.0"/><path d="M499.6 527.5h2.4M500.5 473.2v109.4"/><path d="M526.4 555.5h2.4M527.5 503.5v104.4"/><path d="M507.6 538.5h2.4M508.5 488.6v99.9"/><path d="M508.4 544.5h2.4M509.5 491.6v105.2"/><path d="M487.4 556.5h2.4M488.5 536.5v39.5"/><path d="M507.1 562.5h2.4M508.5 507.1v110.2"/><path d="M524.3 562.5h2.4M525.5 532.5v60.6"/><path d="M499.1 552.5h2.4M500.5 529.3v46.9"/><path d="M502.8 543.5h2.4M504.5 474.3v137.9"/><path d="M518.7 557.5h2.4M519.5 534.8v44.8"/><path d="M522.7 558.5h2.4M523.5 518.8v79.5"/><path d="M505.6 560.5h2.4M506.5 526.4v68.2"/><path d="M527.5 561.5h2.4M528.5 534.8v54.3"/><path d="M509.7 558.5h2.4M510.5 500.1v116.8"/><path d="M523.4 543.5h2.4M524.5 498.0v91.1"/><path d="M500.1 560.5h2.4M501.5 516.5v88.1"/><path d="M513.3 555.5h2.4M514.5 506.5v98.4"/><path d="M486.6 572.5h2.4M487.5 538.5v67.5"/><path d="M518.0 554.5h2.4M519.5 527.0v54.7"/><path d="M526.6 570.5h2.4M527.5 537.8v64.4"/><path d="M522.0 531.5h2.4M523.5 483.8v96.0"/><path d="M495.8 578.5h2.4M496.5 539.7v76.7"/><path d="M501.5 574.5h2.4M502.5 535.3v77.9"/><path d="M488.2 575.5h2.4M489.5 528.6v93.2"/><path d="M508.0 569.5h2.4M509.5 524.5v90.3"/><path d="M499.5 543.5h2.4M500.5 471.1v144.0"/><path d="M526.8 551.5h2.4M528.5 498.0v106.4"/><path d="M486.8 575.5h2.4M488.5 548.7v53.1"/><path d="M528.8 553.5h2.4M530.5 518.2v70.5"/><path d="M494.1 577.5h2.4M495.5 539.3v75.6"/><path d="M509.5 544.5h2.4M510.5 507.7v73.7"/><path d="M492.7 559.5h2.4M493.5 533.2v52.6"/><path d="M506.8 560.5h2.4M508.5 535.9v48.2"/><path d="M496.2 581.5h2.4M497.5 544.3v74.5"/><path d="M496.6 563.5h2.4M497.5 534.6v57.0"/><path d="M488.9 564.5h2.4M490.5 530.0v68.6"/><path d="M497.0 572.5h2.4M498.5 533.1v78.7"/><path d="M507.3 556.5h2.4M508.5 509.5v94.6"/><path d="M518.6 577.5h2.4M519.5 534.5v86.0"/><path d="M491.2 557.5h2.4M492.5 544.3v27.0"/><path d="M491.5 555.5h2.4M492.5 533.6v43.1"/><path d="M492.9 572.5h2.4M494.5 533.1v79.1"/><path d="M520.5 551.5h2.4M521.5 505.1v93.5"/></g>
<g fill="none" stroke="#1414dc" stroke-opacity="0.5" stroke-width="0.9"><path d="M507.0 559.5h2.4M508.5 537.7v44.2"/><path d="M499.2 558.5h2.4M500.5 526.1v65.7"/><path d="M513.2 556.5h2.4M514.5 525.9v62.2"/><path d="M502.5 563.5h2.4M503.5 539.8v47.9"/><path d="M497.5 569.5h2.4M498.5 535.0v68.3"/><path d="M488.1 570.5h2.4M489.5 546.7v47.2"/><path d="M511.5 563.5h2.4M512.5 531.7v64.5"/><path d="M487.4 561.5h2.4M488.5 526.7v69.5"/><path d="M495.7 570.5h2.4M496.5 535.5v69.0"/><path d="M501.9 567.5h2.4M503.5 540.1v54.0"/><path d="M493.6 569.5h2.4M494.5 549.6v39.9"/><path d="M487.4 561.5h2.4M488.5 532.8v57.6"/><path d="M492.4 557.5h2.4M493.5 532.8v49.0"/><path d="M512.2 561.5h2.4M513.5 535.6v51.5"/><path d="M501.6 563.5h2.4M502.5 537.7v52.0"/><path d="M508.7 568.5h2.4M509.5 533.7v69.4"/><path d="M507.5 562.5h2.4M508.5 540.8v43.3"/><path d="M505.8 574.5h2.4M507.5 549.4v50.9"/><path d="M488.0 554.5h2.4M489.5 528.5v51.5"/><path d="M504.8 571.5h2.4M505.5 546.6v50.6"/><path d="M504.7 567.5h2.4M505.5 536.3v62.0"/><path d="M501.6 563.5h2.4M502.5 544.0v39.9"/><path d="M499.5 560.5h2.4M500.5 538.9v42.8"/><path d="M502.0 564.5h2.4M503.5 547.5v34.7"/><path d="M506.6 571.5h2.4M507.5 541.6v60.7"/></g>
<g fill="none" stroke="#1414dc" stroke-opacity="0.7" stroke-width="1.1"><path d="M510.8 576.5h2.0M511.5 565.7v22.4"/><path d="M508.9 575.5h1.7M509.5 561.2v27.8"/><path d="M509.2 566.5h1.9M510.5 553.6v26.3"/><path d="M510.2 585.5h2.2M511.5 576.5v18.5"/><path d="M507.3 551.5h1.3M508.5 539.6v22.9"/><path d="M507.2 568.5h2.3M508.5 557.8v21.8"/><path d="M510.6 562.5h1.9M511.5 553.6v18.9"/><path d="M507.8 573.5h1.4M508.5 565.4v16.9"/><path d="M489.2 582.5h2.6M490.5 573.7v18.0"/><path d="M489.2 593.5h2.0M490.5 579.7v27.8"/><path d="M493.2 579.5h1.5M493.5 564.2v30.9"/><path d="M492.2 550.5h2.6M493.5 537.5v25.3"/><path d="M489.3 571.5h1.6M490.5 557.6v27.4"/><path d="M489.8 553.5h2.4M490.5 543.9v20.0"/><path d="M489.2 581.5h1.4M489.5 569.2v24.6"/><path d="M490.0 555.5h2.5M491.5 542.4v26.0"/></g>
<g fill="none" stroke="#1414dc" stroke-opacity="0.45" stroke-width="0.9"><path d="M529.8 486.5h2.4M531.5 433.0v107.0"/></g>
<g fill="none" stroke="#1414dc" stroke-opacity="0.6" stroke-width="0.9"><path d="M529.8 570.5h2.4M531.5 540.0v60.0"/></g>
<g fill="none" stroke="#1414dc" stroke-opacity="0.3" stroke-width="0.9"><path d="M539.8 538.5h2.4M541.5 476.0v124.0"/><path d="M541.3 550.5h2.4M542.5 490.0v120.0"/></g>
<g fill="none" stroke="#e0141e" stroke-opacity="0.3" stroke-width="0.9"><path d="M485.0 517.5h2.4M486.5 494.5v46.2"/><path d="M494.6 506.5h2.4M495.5 487.5v38.0"/><path d="M488.2 500.5h2.4M489.5 454.5v91.5"/><path d="M496.1 508.5h2.4M497.5 476.5v64.8"/><path d="M496.5 503.5h2.4M497.5 473.6v60.5"/><path d="M487.8 511.5h2.4M489.5 499.2v24.7"/><path d="M486.7 506.5h2.4M487.5 491.8v29.1"/><path d="M486.8 500.5h2.4M487.5 474.1v53.5"/><path d="M489.1 493.5h2.4M490.5 446.4v95.0"/><path d="M485.2 492.5h2.4M486.5 460.9v62.3"/><path d="M493.0 497.5h2.4M494.5 457.0v80.8"/><path d="M484.7 503.5h2.4M485.5 476.1v54.8"/><path d="M495.7 492.5h2.4M496.5 455.7v73.8"/><path d="M495.2 492.5h2.4M496.5 448.4v87.3"/><path d="M490.4 493.5h2.4M491.5 461.0v64.4"/><path d="M490.5 483.5h2.4M491.5 446.6v73.7"/><path d="M487.9 497.5h2.4M489.5 465.8v62.5"/><path d="M493.2 503.5h2.4M494.5 467.8v71.6"/><path d="M491.7 516.5h2.4M492.5 484.1v65.7"/><path d="M491.3 510.5h2.4M492.5 483.2v54.6"/><path d="M485.3 513.5h2.4M486.5 490.9v46.0"/><path d="M484.8 510.5h2.4M485.5 485.9v50.2"/><path d="M496.1 501.5h2.4M497.5 467.9v67.1"/><path d="M495.5 520.5h2.4M496.5 496.1v48.6"/><path d="M489.9 506.5h2.4M491.5 468.7v74.8"/><path d="M495.5 506.5h2.4M496.5 470.2v72.3"/><path d="M491.3 501.5h2.4M492.5 475.3v51.5"/><path d="M487.8 505.5h2.4M489.5 459.0v92.5"/><path d="M484.6 491.5h2.4M485.5 457.1v69.5"/><path d="M494.5 505.5h2.4M495.5 481.9v47.9"/><path d="M485.6 512.5h2.4M486.5 482.0v61.9"/><path d="M492.3 511.5h2.4M493.5 484.3v54.8"/><path d="M484.7 518.5h2.4M485.5 488.7v59.1"/><path d="M486.4 508.5h2.4M487.5 466.1v85.4"/><path d="M496.5 518.5h2.4M497.5 489.9v57.0"/><path d="M486.3 519.5h2.4M487.5 493.1v53.2"/><path d="M486.8 520.5h2.4M488.5 495.2v50.9"/><path d="M495.8 508.5h2.4M496.5 494.4v28.6"/><path d="M486.4 507.5h2.4M487.5 489.3v36.2"/><path d="M488.7 517.5h2.4M489.5 488.4v58.2"/><path d="M489.3 504.5h2.4M490.5 467.7v74.6"/><path d="M496.7 505.5h2.4M497.5 479.5v51.6"/><path d="M487.3 497.5h2.4M488.5 455.3v84.3"/><path d="M493.3 500.5h2.4M494.5 457.2v86.6"/><path d="M491.9 506.5h2.4M493.5 476.5v60.3"/><path d="M501.0 453.5h2.4M502.5 420.4v65.8"/><path d="M505.4 470.5h2.4M506.5 442.2v57.0"/><path d="M505.1 459.5h2.4M506.5 424.0v71.8"/><path d="M501.0 471.5h2.4M502.5 444.1v54.2"/><path d="M495.4 446.5h2.4M496.5 421.3v50.2"/><path d="M505.6 460.5h2.4M506.5 432.3v56.4"/><path d="M499.5 453.5h2.4M500.5 434.8v38.0"/><path d="M497.4 457.5h2.4M498.5 438.3v38.5"/><path d="M495.8 467.5h2.4M496.5 436.2v63.3"/><path d="M510.2 466.5h2.4M511.5 442.0v49.4"/><path d="M493.9 455.5h2.4M495.5 423.9v63.6"/><path d="M503.1 455.5h2.4M504.5 440.9v30.0"/><path d="M504.7 457.5h2.4M505.5 421.8v70.9"/><path d="M495.4 462.5h2.4M496.5 432.2v61.0"/></g>
<g fill="none" stroke="#e0141e" stroke-opacity="0.6" stroke-width="1.1"><path d="M490.8 526.5h2.3M491.5 514.9v22.6"/><path d="M489.1 512.5h1.9M490.5 498.5v28.5"/><path d="M487.9 504.5h2.3M489.5 489.3v29.5"/><path d="M490.7 533.5h2.3M491.5 523.6v19.0"/><path d="M488.2 510.5h2.3M489.5 493.0v34.6"/><path d="M486.5 484.5h2.4M487.5 466.6v35.9"/><path d="M487.6 515.5h1.7M488.5 503.7v24.3"/><path d="M488.8 520.5h2.5M490.5 508.7v24.0"/><path d="M488.0 507.5h2.6M489.5 494.4v26.9"/><path d="M490.9 535.5h1.2M491.5 519.4v31.9"/><path d="M486.3 510.5h2.1M487.5 501.2v18.3"/><path d="M488.9 520.5h1.7M489.5 507.0v27.4"/></g>
<g fill="none" stroke="#20e020" stroke-opacity="0.45" stroke-width="0.9"><path d="M513.8 507.5h2.4M515.5 478.7v58.3"/></g>
<g fill="none" stroke="#20e020" stroke-opacity="0.4" stroke-width="0.9"><path d="M513.8 568.5h2.4M515.5 537.0v63.0"/><path d="M521.8 496.5h2.4M523.5 456.0v81.0"/></g>
<g fill="none" stroke="#20e020" stroke-opacity="0.35" stroke-width="0.9"><path d="M521.8 573.5h2.4M523.5 537.0v73.0"/></g>
<g fill="none" stroke="#20e020" stroke-opacity="0.5" stroke-width="0.9"><path d="M533.8 535.5h2.4M535.5 456.0v158.0"/><path d="M535.8 535.5h2.4M537.5 470.0v130.0"/></g>
<g fill="none" stroke="#20e020" stroke-opacity="0.65" stroke-width="0.9"><path d="M537.8 528.5h2.4M539.5 456.0v144.0"/></g>
<g fill="none" stroke="#20e020" stroke-opacity="0.5" stroke-width="0.9"><path d="M536.8 520.5h2.4M538.5 480.0v80.0"/></g>
<g fill="none" stroke="#20e020" stroke-opacity="0.3" stroke-width="0.9"><path d="M526.8 530.5h2.4M528.5 470.0v120.0"/></g>
<g fill="none" stroke="#20e020" stroke-opacity="0.35" stroke-width="0.9"><path d="M531.8 540.5h2.4M533.5 480.0v120.0"/></g>
<g fill="none" stroke="#1414dc" stroke-opacity="0.35" stroke-width="0.8"><path d="M536.2 496.5h1.6M536.5 477.9v37.8"/><path d="M537.0 539.5h2.3M538.5 521.7v35.6"/><path d="M537.8 524.5h2.0M538.5 511.7v24.8"/><path d="M534.7 581.5h1.3M535.5 568.8v25.8"/></g>
<g fill="none" stroke="#1414dc" stroke-opacity="0.45" stroke-width="0.8"><path d="M465.6 583.5h2.0M466.5 549.0v68.0"/></g>
<circle cx="466.6" cy="577.0" r="0.8" fill="#1414dc"/>
<circle cx="466.6" cy="590.0" r="0.8" fill="#1414dc"/>
<g fill="none" stroke="#e0141e" stroke-opacity="0.3" stroke-width="0.8"><path d="M559.6 498.5h0.0M559.5 455.0v86.0"/></g>
<g fill="none" stroke="#e0141e" stroke-opacity="0.35" stroke-width="0.8"><path d="M553.6 487.5h12.0M559.5 487.4v0.0"/><path d="M555.6 508.5h8.0M559.5 508.0v0.0"/></g>
<g fill="none" stroke="#20e020" stroke-opacity="0.45" stroke-width="0.8"><path d="M557.2 539.5h3.0M558.5 527.0v24.6"/><path d="M553.2 543.5h2.5M554.5 520.3v46.2"/><path d="M558.1 554.5h1.8M558.5 528.7v51.8"/><path d="M552.9 543.5h2.0M553.5 531.7v24.7"/></g>
<g fill="none" stroke="#20e020" stroke-opacity="0.4" stroke-width="0.8"><path d="M567.7 552.5h2.0M568.5 529.0v46.0"/></g>
<g fill="none" stroke="#20e020" stroke-opacity="0.6" stroke-width="0.9"><path d="M587.3 564.5h3.1M588.5 544.7v40.3"/><path d="M591.3 558.5h1.5M591.5 534.4v48.1"/><path d="M587.5 546.5h2.6M588.5 528.8v36.2"/><path d="M588.4 540.5h2.0M589.5 520.6v39.1"/><path d="M587.4 542.5h2.1M588.5 526.2v32.5"/><path d="M590.7 546.5h2.1M591.5 530.5v31.9"/><path d="M590.5 544.5h1.6M591.5 524.2v41.1"/><path d="M590.5 562.5h2.2M591.5 539.2v47.4"/><path d="M586.9 562.5h2.7M588.5 543.9v37.4"/></g>
<g fill="none" stroke="#1414dc" stroke-opacity="0.3" stroke-width="0.8"><path d="M623.6 547.5h6.0M626.5 489.5v116.0"/><path d="M664.9 468.5h4.7M667.5 443.7v50.3"/><path d="M660.2 472.5h4.9M662.5 448.2v49.2"/><path d="M650.4 466.5h5.8M653.5 438.8v56.1"/><path d="M659.8 490.5h3.9M661.5 467.0v46.8"/><path d="M657.2 494.5h5.6M659.5 466.0v56.6"/><path d="M660.2 472.5h6.3M663.5 441.4v63.0"/><path d="M664.1 477.5h5.0M666.5 445.1v65.6"/><path d="M660.1 494.5h4.0M662.5 460.6v68.3"/><path d="M656.7 484.5h3.5M658.5 456.9v54.5"/><path d="M666.2 463.5h3.7M668.5 433.5v59.5"/><path d="M661.5 491.5h5.4M664.5 458.6v65.9"/><path d="M660.8 468.5h4.9M663.5 443.6v50.1"/><path d="M649.9 483.5h6.4M653.5 455.4v56.8"/><path d="M664.4 488.5h3.1M665.5 458.9v59.8"/><path d="M667.8 490.5h4.0M669.5 453.8v72.6"/><path d="M661.4 502.5h6.0M664.5 471.6v61.0"/></g>
<g fill="none" stroke="#1414dc" stroke-opacity="0.35" stroke-width="0.8"><path d="M683.0 557.5h8.0M687.5 517.0v80.0"/><path d="M690.6 568.5h8.0M694.5 531.0v74.0"/><path d="M694.8 583.5h8.0M698.5 548.6v70.0"/><path d="M697.0 577.5h8.0M701.5 542.0v70.0"/><path d="M718.0 579.5h8.0M722.5 539.4v80.0"/><path d="M721.4 561.5h8.0M725.5 526.0v70.0"/><path d="M668.0 478.5h8.0M672.5 448.0v60.0"/><path d="M675.0 485.5h8.0M679.5 452.0v66.0"/><path d="M680.0 478.5h8.0M684.5 450.0v56.0"/></g>
<circle cx="777.6" cy="453.8" r="0.8" fill="#20e020"/>
<g fill="none" stroke="#e0141e" stroke-opacity="0.9" stroke-width="0.9"><path d="M489.8 772.5h3.1M491.5 770.5v3.4"/><path d="M496.2 759.5h2.7M497.5 757.8v4.1"/><path d="M493.8 769.5h1.8M494.5 766.2v6.1"/><path d="M495.7 761.5h1.9M496.5 759.1v5.0"/><path d="M486.2 781.5h1.9M487.5 779.1v4.5"/><path d="M486.2 780.5h1.7M487.5 778.4v5.1"/><path d="M496.1 763.5h2.1M497.5 761.7v3.1"/><path d="M485.9 781.5h3.1M487.5 779.3v4.5"/><path d="M486.8 781.5h1.8M487.5 779.9v3.0"/><path d="M488.0 776.5h2.6M489.5 775.0v3.3"/><path d="M485.6 783.5h2.9M487.5 780.5v6.1"/><path d="M492.3 768.5h1.9M493.5 766.3v4.8"/><path d="M496.9 759.5h2.7M498.5 757.3v4.0"/><path d="M489.1 776.5h2.3M490.5 774.6v4.6"/><path d="M486.1 781.5h3.1M487.5 779.7v3.8"/><path d="M488.1 778.5h3.3M489.5 776.1v4.3"/><path d="M488.8 775.5h2.9M490.5 772.1v6.4"/><path d="M495.9 762.5h3.0M497.5 760.0v5.8"/><path d="M492.6 770.5h2.6M493.5 767.7v4.7"/><path d="M494.2 765.5h2.7M495.5 762.3v6.1"/><path d="M497.1 758.5h2.3M498.5 756.5v4.8"/><path d="M490.7 772.5h3.3M492.5 770.6v4.3"/><path d="M495.6 761.5h3.2M497.5 758.4v6.4"/><path d="M484.3 782.5h2.1M485.5 780.8v4.3"/><path d="M487.5 779.5h2.6M488.5 777.1v5.1"/><path d="M494.9 761.5h2.4M496.5 759.4v4.2"/><path d="M496.4 759.5h1.7M497.5 756.6v5.2"/><path d="M485.5 782.5h2.3M486.5 781.1v3.8"/><path d="M487.8 778.5h2.0M488.5 775.7v5.5"/><path d="M487.0 780.5h1.9M488.5 778.1v5.7"/></g>
<g fill="none" stroke="#e0141e" stroke-opacity="0.5" stroke-width="0.8"><path d="M500.8 751.5h2.4M502.5 748.5v5.0"/><path d="M504.8 749.5h2.4M506.5 746.5v5.0"/><path d="M507.8 747.5h2.4M509.5 745.0v5.0"/><path d="M500.3 756.5h2.4M501.5 753.5v5.0"/></g>
<g fill="none" stroke="#1414dc" stroke-opacity="0.9" stroke-width="0.9"><path d="M510.3 777.5h2.6M511.5 774.1v6.3"/><path d="M512.9 774.5h2.4M514.5 772.9v3.5"/><path d="M524.0 763.5h4.3M526.5 761.9v4.0"/><path d="M512.8 773.5h2.9M514.5 770.3v6.4"/><path d="M504.6 782.5h3.6M506.5 780.3v4.9"/><path d="M513.0 774.5h3.3M514.5 771.4v5.4"/><path d="M525.9 764.5h3.3M527.5 762.8v3.9"/><path d="M514.4 773.5h4.3M516.5 770.4v6.1"/><path d="M513.1 774.5h3.5M514.5 771.7v6.0"/><path d="M510.5 778.5h2.6M511.5 776.5v5.0"/><path d="M521.1 767.5h3.7M522.5 764.9v4.2"/><path d="M519.2 767.5h4.1M521.5 766.2v3.4"/><path d="M505.5 778.5h4.4M507.5 776.5v4.5"/><path d="M500.4 785.5h3.5M502.5 783.5v4.1"/><path d="M499.9 785.5h3.0M501.5 783.0v5.7"/><path d="M520.1 771.5h3.3M521.5 768.8v5.9"/><path d="M510.4 774.5h2.3M511.5 771.5v5.0"/><path d="M518.2 771.5h2.8M519.5 769.6v3.5"/><path d="M515.3 773.5h4.6M517.5 771.6v3.6"/><path d="M503.6 780.5h4.4M505.5 778.6v4.1"/><path d="M518.5 768.5h4.5M520.5 767.1v3.7"/><path d="M508.6 777.5h3.7M510.5 774.8v5.4"/><path d="M501.9 781.5h3.2M503.5 779.6v3.9"/><path d="M506.1 780.5h2.7M507.5 778.1v4.1"/><path d="M520.0 767.5h2.5M521.5 765.7v4.2"/><path d="M500.9 785.5h4.3M502.5 783.5v3.9"/><path d="M505.4 788.5h3.2M506.5 785.9v4.9"/><path d="M505.8 786.5h3.4M507.5 785.1v3.6"/><path d="M515.6 770.5h1.8M516.5 767.3v5.9"/><path d="M500.2 790.5h2.7M501.5 787.7v5.0"/><path d="M501.3 789.5h1.9M502.5 787.2v4.0"/><path d="M512.3 775.5h3.5M514.5 772.2v6.5"/><path d="M515.3 772.5h1.8M516.5 770.5v3.4"/><path d="M508.4 785.5h2.2M509.5 782.8v4.4"/><path d="M508.9 781.5h2.2M510.5 779.4v4.0"/><path d="M505.9 791.5h2.8M507.5 789.1v4.5"/><path d="M508.8 779.5h3.7M510.5 776.0v6.3"/><path d="M500.7 784.5h2.4M501.5 781.5v6.5"/><path d="M507.3 781.5h2.6M508.5 778.6v5.3"/><path d="M505.2 788.5h3.0M506.5 785.3v5.7"/><path d="M503.8 783.5h3.4M505.5 781.3v4.1"/><path d="M503.7 784.5h2.8M505.5 782.1v5.0"/><path d="M512.4 777.5h2.1M513.5 774.9v4.8"/><path d="M504.6 787.5h2.7M505.5 785.1v5.7"/><path d="M505.5 787.5h3.3M507.5 785.3v4.2"/><path d="M514.7 773.5h2.8M516.5 771.4v4.2"/><path d="M506.2 787.5h3.4M507.5 785.6v4.3"/><path d="M513.3 770.5h2.6M514.5 768.2v4.0"/><path d="M499.4 791.5h3.5M501.5 789.7v3.3"/><path d="M502.2 791.5h3.3M503.5 788.4v6.1"/><path d="M506.1 789.5h2.4M507.5 787.3v4.8"/><path d="M499.2 792.5h2.2M500.5 790.2v3.7"/><path d="M515.0 771.5h2.5M516.5 769.6v4.2"/><path d="M502.5 788.5h1.8M503.5 786.3v4.3"/><path d="M506.8 779.5h3.3M508.5 777.6v4.5"/><path d="M503.5 789.5h3.3M505.5 785.9v6.3"/><path d="M503.2 786.5h2.5M504.5 783.0v6.2"/><path d="M497.5 789.5h2.9M498.5 786.3v6.1"/><path d="M504.7 782.5h3.3M506.5 779.7v5.6"/><path d="M510.6 775.5h3.2M512.5 773.1v5.8"/></g>
<g fill="none" stroke="#1414dc" stroke-opacity="0.6" stroke-width="0.8"><path d="M520.0 766.5h3.9M521.5 764.5v3.1"/><path d="M523.1 774.5h3.1M524.5 771.5v5.1"/><path d="M514.5 772.5h4.6M516.5 769.5v6.0"/><path d="M522.8 774.5h3.9M524.5 771.8v4.8"/><path d="M512.4 763.5h4.9M514.5 760.4v6.4"/><path d="M520.9 766.5h4.2M522.5 764.4v3.7"/><path d="M514.4 776.5h5.0M516.5 774.9v3.0"/><path d="M520.2 775.5h4.4M522.5 773.3v3.5"/><path d="M515.7 775.5h3.0M517.5 773.9v3.6"/><path d="M517.2 765.5h3.1M518.5 764.1v3.5"/><path d="M525.0 762.5h4.0M527.5 759.5v5.0"/><path d="M529.5 761.5h4.0M531.5 759.0v5.0"/><path d="M497.1 794.5h2.7M498.5 792.3v4.2"/><path d="M496.8 794.5h2.6M498.5 793.1v3.2"/><path d="M497.2 794.5h3.4M498.5 792.5v3.4"/></g>
<g fill="none" stroke="#e0141e" stroke-opacity="0.55" stroke-width="0.8"><path d="M482.5 792.5h2.0M483.5 790.5v4.0"/><path d="M490.5 804.5h2.0M491.5 802.5v4.0"/><path d="M494.5 803.5h2.0M495.5 801.0v4.0"/><path d="M501.0 806.5h2.0M502.5 804.0v4.0"/><path d="M508.5 802.5h2.0M509.5 800.5v4.0"/><path d="M496.0 810.5h2.0M497.5 808.0v4.0"/><path d="M507.0 813.5h2.0M508.5 811.0v4.0"/><path d="M512.0 812.5h2.0M513.5 810.0v4.0"/><path d="M501.0 820.5h2.0M502.5 818.0v4.0"/><path d="M506.0 820.5h2.0M507.5 818.0v4.0"/></g>
<g fill="none" stroke="#1414dc" stroke-opacity="0.9" stroke-width="0.9"><path d="M491.6 816.5h3.2M493.5 814.8v3.8"/><path d="M494.2 816.5h2.2M495.5 815.4v2.1"/><path d="M495.3 816.5h3.4M496.5 814.7v3.4"/><path d="M495.2 818.5h2.7M496.5 816.9v2.5"/><path d="M493.2 818.5h3.3M494.5 817.1v2.7"/><path d="M495.4 818.5h2.4M496.5 817.7v2.7"/><path d="M490.1 820.5h1.9M491.5 819.3v2.6"/></g>
<g fill="none" stroke="#20e020" stroke-opacity="0.5" stroke-width="0.8"><path d="M517.9 816.5h2.0M518.5 814.5v4.3"/><path d="M515.0 814.5h2.5M516.5 813.4v2.6"/><path d="M522.1 813.5h3.7M523.5 811.2v4.3"/><path d="M521.9 816.5h3.0M523.5 814.7v3.6"/><path d="M518.9 814.5h2.2M519.5 813.0v4.0"/><path d="M520.3 818.5h3.7M522.5 816.8v4.1"/><path d="M517.0 803.5h2.0M518.5 801.5v4.0"/><path d="M502.0 816.5h2.0M503.5 814.0v4.0"/></g>
<g fill="none" stroke="#e0141e" stroke-opacity="0.45" stroke-width="0.8"><path d="M554.6 812.5h10.0M559.5 810.5v3.0"/></g>
<g fill="none" stroke="#1414dc" stroke-opacity="0.95" stroke-width="1.1"><path d="M492.6 838.5h1.7M493.5 837.5v2.9"/><path d="M496.3 837.5h2.0M497.5 836.2v2.9"/><path d="M493.8 835.5h2.6M495.5 834.5v2.1"/><path d="M491.9 840.5h1.8M492.5 840.1v1.8"/><path d="M494.7 836.5h2.0M495.5 835.6v2.2"/><path d="M497.4 839.5h2.2M498.5 837.7v2.8"/><path d="M497.7 841.5h1.5M498.5 840.0v2.8"/><path d="M496.1 839.5h2.7M497.5 838.7v2.5"/></g>
<g fill="none" stroke="#1414dc" stroke-opacity="0.5" stroke-width="0.8"><path d="M510.0 836.5h14.0M517.5 834.5v4.0"/></g>
<circle cx="513.5" cy="841.0" r="0.8" fill="#1414dc"/>
<g fill="none" stroke="#20e020" stroke-opacity="0.45" stroke-width="0.8"><path d="M499.0 840.5h47.0M522.5 840.0v0.0"/><path d="M521.5 842.5h0.0M521.5 839.0v7.0"/></g>
<g fill="none" stroke="#1414dc" stroke-opacity="0.55" stroke-width="0.8"><path d="M507.6 845.5h4.6M509.5 845.3v0.6"/><path d="M511.3 845.5h3.1M512.5 844.7v0.8"/><path d="M507.2 845.5h4.1M509.5 844.6v0.8"/></g>
<g fill="none" stroke="#1414dc" stroke-opacity="0.9" stroke-width="1.0"><path d="M465.6 837.5h2.0M466.5 836.0v2.0"/></g>
<g fill="none" stroke="#20e020" stroke-opacity="0.8" stroke-width="1.0"><path d="M533.0 848.5h3.3M534.5 847.7v0.5"/><path d="M533.2 848.5h2.8M534.5 848.3v0.7"/></g>
<g fill="none" stroke="#20e020" stroke-opacity="0.7" stroke-width="1.0"><path d="M563.4 847.5h3.8M565.5 846.6v1.0"/><path d="M557.1 846.5h2.8M558.5 846.1v1.0"/><path d="M556.0 847.5h3.2M557.5 847.1v0.6"/><path d="M562.5 847.5h4.5M564.5 846.7v0.9"/><path d="M584.8 846.5h6.0M587.5 845.5v1.0"/></g>
<g fill="none" stroke="#1414dc" stroke-opacity="0.45" stroke-width="0.8"><path d="M598.5 694.5h7.0M602.5 688.0v12.0"/><path d="M602.5 700.5h7.0M606.5 694.0v12.0"/><path d="M612.5 681.5h7.0M616.5 675.7v12.0"/><path d="M614.5 688.5h7.0M618.5 682.0v12.0"/><path d="M623.1 687.5h7.0M626.5 681.0v12.0"/><path d="M625.2 680.5h7.0M628.5 674.7v12.0"/><path d="M684.5 689.5h7.0M688.5 683.0v12.0"/><path d="M691.1 662.5h7.0M694.5 656.6v12.0"/><path d="M695.3 665.5h7.0M698.5 659.8v12.0"/><path d="M699.5 653.5h7.0M703.5 647.0v12.0"/><path d="M699.5 672.5h7.0M703.5 666.0v12.0"/><path d="M709.1 673.5h7.0M712.5 667.0v12.0"/><path d="M715.5 667.5h7.0M719.5 661.0v12.0"/><path d="M718.5 665.5h7.0M722.5 659.8v12.0"/><path d="M721.9 670.5h7.0M725.5 664.0v12.0"/><path d="M716.5 663.5h7.0M720.5 657.0v12.0"/><path d="M718.5 670.5h7.0M722.5 664.0v12.0"/><path d="M697.5 660.5h7.0M701.5 654.0v12.0"/></g>
<g fill="none" stroke="#1414dc" stroke-opacity="0.55" stroke-width="0.8"><path d="M674.7 849.5h7.5M678.5 848.4v1.2"/><path d="M657.0 848.5h4.5M659.5 848.1v1.0"/><path d="M660.1 848.5h5.1M662.5 848.3v0.7"/><path d="M666.2 849.5h5.1M668.5 848.7v0.7"/><path d="M666.5 848.5h5.9M669.5 848.3v1.2"/><path d="M676.2 849.5h6.1M679.5 848.5v1.3"/><path d="M665.7 848.5h4.5M667.5 848.4v0.8"/><path d="M659.5 848.5h4.8M661.5 848.0v0.7"/><path d="M651.4 848.5h5.4M654.5 848.3v1.2"/><path d="M669.0 849.5h7.4M672.5 849.1v0.7"/></g>
<g fill="none" stroke="#1414dc" stroke-opacity="0.45" stroke-width="0.8"><path d="M507.0 990.5h4.0M509.5 985.0v10.0"/><path d="M511.0 989.5h4.0M513.5 984.0v10.0"/><path d="M515.0 990.5h4.0M517.5 985.0v10.0"/><path d="M509.0 987.5h4.0M511.5 982.0v10.0"/><path d="M524.5 984.5h3.0M526.5 978.0v12.0"/></g>
<g fill="none" stroke="#1414dc" stroke-opacity="0.95" stroke-width="1.2"><path d="M531.0 993.5h1.6M531.5 991.2v4.2"/><path d="M529.0 986.5h3.0M530.5 983.0v7.3"/><path d="M530.0 985.5h1.6M530.5 981.4v7.2"/><path d="M530.1 990.5h2.0M531.5 987.4v5.4"/><path d="M531.0 993.5h1.5M531.5 990.8v5.4"/><path d="M530.7 992.5h2.5M531.5 989.7v4.8"/></g>
<g fill="none" stroke="#20e020" stroke-opacity="0.6" stroke-width="1.0"><path d="M532.6 986.5h3.0M534.5 979.5v14.7"/><path d="M535.6 993.5h2.6M536.5 986.4v13.5"/><path d="M537.3 991.5h3.2M538.5 985.2v11.7"/><path d="M534.3 998.5h2.0M535.5 993.1v10.7"/><path d="M537.3 992.5h2.6M538.5 988.3v9.0"/><path d="M534.2 995.5h3.2M535.5 989.5v12.4"/><path d="M537.6 989.5h2.4M538.5 983.1v12.4"/><path d="M536.8 995.5h3.6M538.5 987.9v14.2"/><path d="M533.0 993.5h2.3M534.5 987.4v12.9"/><path d="M536.8 996.5h2.2M537.5 991.5v10.3"/></g>
<g fill="none" stroke="#20e020" stroke-opacity="0.4" stroke-width="0.8"><path d="M536.0 1005.5h0.0M536.5 999.0v12.0"/></g>
<g fill="none" stroke="#1414dc" stroke-opacity="0.45" stroke-width="0.8"><path d="M538.0 989.5h3.3M539.5 984.0v11.9"/><path d="M539.8 988.5h2.8M541.5 983.9v8.7"/><path d="M541.4 988.5h2.8M542.5 983.0v11.9"/><path d="M538.9 979.5h1.9M539.5 972.8v12.8"/><path d="M541.1 979.5h2.2M542.5 974.3v10.8"/><path d="M539.0 988.5h2.3M540.5 983.9v9.4"/></g>
<g fill="none" stroke="#20e020" stroke-opacity="0.5" stroke-width="0.9"><path d="M539.3 988.5h2.6M540.5 984.9v6.8"/><path d="M538.3 978.5h2.6M539.5 973.3v10.6"/><path d="M538.2 981.5h2.9M539.5 978.2v6.3"/><path d="M540.7 987.5h2.5M541.5 983.8v8.2"/></g>
<g fill="none" stroke="#20e020" stroke-opacity="0.6" stroke-width="0.9"><path d="M558.6 984.5h2.4M559.5 980.1v8.3"/><path d="M557.3 984.5h3.1M558.5 980.0v8.5"/><path d="M556.9 976.5h2.3M558.5 972.7v7.2"/><path d="M558.4 979.5h1.8M559.5 976.9v5.9"/></g>
<g fill="none" stroke="#20e020" stroke-opacity="0.5" stroke-width="0.8"><path d="M568.3 975.5h2.0M569.5 971.0v8.0"/></g>
<g fill="none" stroke="#20e020" stroke-opacity="0.85" stroke-width="1.0"><path d="M589.4 972.5h2.7M590.5 970.5v4.4"/><path d="M589.0 968.5h1.7M589.5 965.6v5.1"/><path d="M588.5 976.5h1.6M589.5 973.7v5.8"/><path d="M588.0 975.5h1.6M588.5 972.3v7.2"/><path d="M588.6 970.5h1.6M589.5 967.5v6.2"/><path d="M587.5 973.5h2.3M588.5 971.3v4.8"/><path d="M589.7 974.5h1.5M590.5 970.4v7.4"/></g>
<g fill="none" stroke="#e0141e" stroke-opacity="0.6" stroke-width="0.9"><path d="M553.6 1033.5h12.0M559.5 1029.0v8.0"/></g>
<g fill="none" stroke="#20e020" stroke-opacity="0.4" stroke-width="0.8"><path d="M529.0 1036.5h17.0M537.5 1036.5v0.0"/></g>
<g fill="none" stroke="#1414dc" stroke-opacity="0.85" stroke-width="1.1"><path d="M494.0 1034.5h3.0M495.5 1031.4v6.7"/><path d="M491.0 1030.5h3.0M492.5 1026.4v8.6"/><path d="M491.0 1034.5h2.8M492.5 1030.6v7.4"/><path d="M493.5 1035.5h2.2M494.5 1031.0v9.2"/></g>
<g fill="none" stroke="#1414dc" stroke-opacity="0.5" stroke-width="0.8"><path d="M493.5 1024.5h2.0M494.5 1019.0v11.0"/></g>
<g fill="none" stroke="#1414dc" stroke-opacity="0.4" stroke-width="0.8"><path d="M498.5 1029.5h3.6M500.5 1024.4v9.8"/><path d="M497.5 1025.5h2.5M498.5 1020.3v11.3"/><path d="M496.1 1023.5h3.9M498.5 1017.3v12.4"/><path d="M497.3 1022.5h3.1M498.5 1018.0v8.7"/></g>
<g fill="none" stroke="#1414dc" stroke-opacity="0.5" stroke-width="0.8"><path d="M515.4 1036.5h2.6M516.5 1030.0v13.0"/><path d="M514.4 1027.5h3.7M516.5 1020.5v13.5"/><path d="M520.3 1038.5h2.2M521.5 1033.8v8.5"/><path d="M518.1 1039.5h2.8M519.5 1034.0v11.4"/><path d="M514.6 1044.5h2.3M515.5 1039.7v10.5"/><path d="M521.8 1044.5h2.6M523.5 1039.4v11.0"/><path d="M522.4 1035.5h2.0M523.5 1031.3v9.0"/><path d="M517.4 1026.5h1.9M518.5 1018.7v14.7"/><path d="M522.1 1042.5h2.4M523.5 1037.5v10.1"/><path d="M523.0 1027.5h2.7M524.5 1021.9v10.3"/><path d="M520.5 1039.5h3.9M522.5 1032.0v15.3"/><path d="M519.5 1044.5h3.1M521.5 1039.9v8.9"/></g>
<g fill="none" stroke="#1414dc" stroke-opacity="0.4" stroke-width="0.8"><path d="M528.2 1038.5h3.7M530.5 1032.3v11.6"/><path d="M526.0 1041.5h3.2M527.5 1035.5v11.4"/><path d="M526.9 1040.5h2.0M527.5 1036.2v9.0"/><path d="M527.8 1038.5h2.7M529.5 1034.0v9.6"/></g>
<g fill="none" stroke="#20e020" stroke-opacity="0.5" stroke-width="0.8"><path d="M503.6 1025.5h1.3M504.5 1021.9v6.5"/><path d="M503.5 1024.5h1.2M504.5 1021.5v6.9"/></g>
<g fill="none" stroke="#20e020" stroke-opacity="0.45" stroke-width="0.8"><path d="M523.3 1034.5h2.2M524.5 1027.9v12.9"/><path d="M521.5 1019.5h2.0M522.5 1013.1v13.1"/><path d="M515.7 1028.5h2.0M516.5 1023.2v9.8"/><path d="M520.1 1027.5h1.7M520.5 1020.8v13.6"/><path d="M516.3 1030.5h2.0M517.5 1022.8v15.4"/><path d="M520.0 1018.5h2.0M520.5 1010.1v15.8"/><path d="M516.9 1034.5h2.9M518.5 1026.2v17.5"/><path d="M521.4 1027.5h2.2M522.5 1022.8v9.2"/></g>
<g fill="none" stroke="#e0141e" stroke-opacity="0.9" stroke-width="1.3"><path d="M487.7 1048.5h2.8M489.5 1044.9v6.9"/><path d="M490.3 1052.5h2.2M491.5 1049.7v6.3"/><path d="M488.3 1046.5h2.3M489.5 1042.5v7.3"/><path d="M489.4 1054.5h2.1M490.5 1051.8v4.7"/><path d="M487.1 1049.5h2.0M488.5 1047.8v4.1"/><path d="M487.8 1054.5h2.8M489.5 1051.9v5.4"/><path d="M487.6 1050.5h2.0M488.5 1047.4v6.2"/><path d="M487.6 1051.5h2.7M488.5 1049.2v4.8"/><path d="M487.3 1051.5h2.4M488.5 1047.5v7.3"/><path d="M491.6 1050.5h2.3M492.5 1046.7v6.9"/><path d="M490.0 1047.5h2.1M491.5 1045.0v4.1"/><path d="M490.4 1053.5h2.5M491.5 1051.1v3.8"/><path d="M488.5 1046.5h2.6M489.5 1042.8v6.8"/><path d="M487.6 1052.5h1.5M488.5 1050.3v4.2"/><path d="M492.2 1047.5h2.5M493.5 1044.2v7.5"/><path d="M491.3 1050.5h2.2M492.5 1047.5v5.3"/><path d="M486.9 1053.5h2.3M488.5 1049.7v6.8"/><path d="M489.4 1048.5h1.9M490.5 1046.1v4.1"/><path d="M491.0 1050.5h2.1M492.5 1046.7v7.7"/><path d="M488.6 1049.5h1.8M489.5 1046.8v4.8"/><path d="M487.7 1050.5h2.1M488.5 1047.8v5.6"/><path d="M491.6 1049.5h2.5M492.5 1046.3v5.7"/><path d="M492.1 1051.5h3.0M493.5 1048.8v5.1"/><path d="M486.9 1047.5h2.8M488.5 1045.8v4.1"/><path d="M488.3 1053.5h1.5M489.5 1050.4v6.6"/><path d="M488.2 1048.5h3.0M489.5 1044.4v7.2"/></g>
<g fill="none" stroke="#e0141e" stroke-opacity="0.6" stroke-width="0.9"><path d="M493.9 1037.5h2.4M495.5 1035.2v5.2"/><path d="M497.7 1040.5h2.0M498.5 1038.0v5.1"/><path d="M495.6 1043.5h1.7M496.5 1039.5v8.7"/><path d="M495.1 1047.5h3.0M496.5 1042.7v9.7"/><path d="M494.9 1040.5h2.5M496.5 1037.3v7.1"/><path d="M495.4 1039.5h1.7M496.5 1036.8v5.4"/></g>
<g fill="none" stroke="#e0141e" stroke-opacity="0.8" stroke-width="1.0"><path d="M507.4 1035.5h3.1M508.5 1032.9v4.7"/><path d="M506.8 1028.5h1.6M507.5 1025.2v7.0"/><path d="M507.2 1030.5h1.8M508.5 1027.7v6.5"/><path d="M506.8 1035.5h1.5M507.5 1031.9v7.5"/><path d="M507.1 1031.5h2.3M508.5 1029.2v4.6"/></g>
<g fill="none" stroke="#e0141e" stroke-opacity="0.6" stroke-width="0.8"><path d="M503.9 1040.5h2.0M504.5 1035.3v9.7"/><path d="M503.6 1042.5h1.4M504.5 1039.5v6.5"/><path d="M502.6 1040.5h1.6M503.5 1035.2v9.8"/></g>
<g fill="none" stroke="#1414dc" stroke-opacity="0.85" stroke-width="1.1"><path d="M506.6 1042.5h2.7M507.5 1038.8v6.6"/><path d="M510.6 1043.5h3.5M512.5 1040.0v6.8"/><path d="M512.2 1047.5h2.6M513.5 1042.8v10.0"/><path d="M512.9 1039.5h3.0M514.5 1035.1v9.7"/><path d="M506.8 1048.5h2.4M508.5 1043.6v9.4"/><path d="M507.6 1049.5h3.6M509.5 1045.8v6.9"/><path d="M504.6 1045.5h3.0M506.5 1041.8v6.5"/><path d="M512.8 1042.5h2.9M514.5 1039.4v6.1"/><path d="M511.5 1043.5h2.1M512.5 1038.9v10.1"/><path d="M506.8 1038.5h3.3M508.5 1035.2v7.2"/><path d="M511.8 1042.5h3.0M513.5 1038.1v8.8"/><path d="M512.8 1039.5h2.0M513.5 1035.4v7.5"/><path d="M506.1 1047.5h2.5M507.5 1043.9v6.8"/><path d="M505.5 1040.5h2.6M506.5 1037.4v6.3"/><path d="M506.2 1040.5h3.3M507.5 1037.9v5.5"/><path d="M509.6 1045.5h1.8M510.5 1040.7v9.4"/><path d="M511.9 1040.5h1.9M512.5 1037.6v5.2"/><path d="M512.3 1037.5h3.1M513.5 1033.5v8.1"/><path d="M510.5 1042.5h2.7M511.5 1039.1v7.4"/><path d="M511.6 1038.5h2.4M512.5 1034.5v7.6"/><path d="M508.4 1044.5h2.6M509.5 1039.8v10.2"/><path d="M507.0 1048.5h1.8M507.5 1044.3v9.4"/></g>
<g fill="none" stroke="#1414dc" stroke-opacity="0.45" stroke-width="0.9"><path d="M497.4 1036.5h2.3M498.5 1030.6v11.5"/><path d="M498.1 1041.5h3.0M499.5 1036.7v8.9"/><path d="M518.8 1051.5h3.0M520.5 1048.2v7.5"/><path d="M504.9 1042.5h2.9M506.5 1036.1v11.9"/><path d="M523.3 1047.5h2.7M524.5 1042.0v10.3"/><path d="M524.6 1047.5h1.9M525.5 1043.9v7.4"/><path d="M508.2 1051.5h2.1M509.5 1045.8v10.9"/><path d="M503.7 1045.5h3.1M505.5 1039.6v11.9"/><path d="M514.1 1043.5h1.9M514.5 1037.6v11.1"/><path d="M500.8 1032.5h3.1M502.5 1028.2v9.1"/><path d="M509.5 1034.5h3.2M511.5 1029.1v10.1"/><path d="M524.0 1038.5h2.4M525.5 1034.1v9.1"/><path d="M496.9 1030.5h2.6M498.5 1026.4v8.1"/><path d="M523.1 1046.5h2.8M524.5 1042.1v9.4"/><path d="M502.1 1042.5h2.8M503.5 1039.0v7.5"/><path d="M509.9 1031.5h2.8M511.5 1027.2v8.6"/><path d="M501.1 1045.5h3.0M502.5 1042.0v7.3"/><path d="M493.6 1042.5h3.3M495.5 1039.6v6.5"/><path d="M521.7 1043.5h2.8M523.5 1040.3v6.1"/><path d="M507.2 1030.5h3.3M508.5 1025.0v11.9"/><path d="M518.4 1043.5h3.0M519.5 1039.7v6.8"/><path d="M528.3 1038.5h2.3M529.5 1035.5v6.1"/><path d="M496.9 1050.5h1.9M497.5 1045.9v9.0"/><path d="M519.2 1046.5h2.4M520.5 1041.0v10.1"/><path d="M523.1 1034.5h2.3M524.5 1029.7v9.5"/></g>
<g fill="none" stroke="#1414dc" stroke-opacity="0.9" stroke-width="1.1"><path d="M491.8 1053.5h1.2M492.5 1051.5v3.9"/><path d="M490.7 1055.5h2.1M491.5 1053.2v3.9"/><path d="M490.9 1051.5h2.6M492.5 1049.1v5.4"/></g>
<g fill="none" stroke="#1414dc" stroke-opacity="0.55" stroke-width="0.8"><path d="M466.5 1053.5h2.0M467.5 1048.0v10.0"/></g>
<g fill="none" stroke="#1414dc" stroke-opacity="0.5" stroke-width="0.8"><path d="M665.9 929.5h4.1M667.5 924.9v9.2"/><path d="M652.7 935.5h6.8M656.5 931.1v9.6"/><path d="M660.9 933.5h3.7M662.5 929.8v6.4"/><path d="M652.1 924.5h5.8M655.5 922.3v5.1"/><path d="M659.2 926.5h4.4M661.5 921.5v9.3"/><path d="M666.7 932.5h6.2M669.5 929.9v5.8"/><path d="M658.3 936.5h3.9M660.5 933.0v6.9"/><path d="M655.0 927.5h4.2M657.5 922.7v8.9"/><path d="M656.3 937.5h5.0M658.5 933.4v8.8"/><path d="M657.3 934.5h3.9M659.5 929.6v10.3"/><path d="M654.7 934.5h5.0M657.5 931.9v4.9"/><path d="M658.7 925.5h6.9M662.5 922.8v6.0"/><path d="M650.8 931.5h6.1M653.5 927.3v8.4"/><path d="M661.4 924.5h7.4M665.5 920.0v9.3"/><path d="M663.3 924.5h4.8M665.5 921.1v5.9"/><path d="M665.4 927.5h5.3M667.5 924.8v6.0"/></g>
<g fill="none" stroke="#1414dc" stroke-opacity="0.45" stroke-width="0.8"><path d="M670.3 925.5h6.0M673.5 920.9v9.0"/><path d="M677.3 929.5h6.0M680.5 925.2v9.0"/><path d="M682.0 925.5h6.0M685.5 920.9v9.0"/><path d="M600.5 1032.5h7.0M604.5 1027.7v10.0"/><path d="M602.5 1030.5h7.0M606.5 1025.0v10.0"/><path d="M614.5 1031.5h7.0M618.5 1026.7v10.0"/><path d="M616.5 1030.5h7.0M620.5 1025.0v10.0"/><path d="M625.2 1031.5h7.0M628.5 1026.7v10.0"/><path d="M684.5 1022.5h7.0M688.5 1017.0v10.0"/><path d="M693.2 1026.5h7.0M696.5 1021.4v10.0"/><path d="M699.5 1025.5h7.0M703.5 1020.0v10.0"/><path d="M700.5 1028.5h7.0M704.5 1023.0v10.0"/><path d="M709.1 1026.5h7.0M712.5 1021.4v10.0"/><path d="M717.5 1023.5h7.0M721.5 1018.0v10.0"/><path d="M721.9 1022.5h7.0M725.5 1017.5v10.0"/><path d="M718.5 1024.5h7.0M722.5 1019.0v10.0"/><path d="M696.5 1027.5h7.0M700.5 1022.0v10.0"/></g>
<circle cx="778.5" cy="878.5" r="0.8" fill="#20e020"/>
<g fill="none" stroke="#111" stroke-width="1.8" stroke-linecap="butt">
<rect x="44.0" y="10.3" width="304.4" height="213.1"/>
<rect x="44.3" y="223.4" width="303.7" height="205.2"/>
<rect x="43.6" y="428.6" width="304.4" height="213.6"/>
<rect x="43.5" y="642.2" width="304.4" height="212.8"/>
<rect x="43.2" y="855.0" width="304.1" height="212.5"/>
<rect x="459.2" y="212.8" width="304.1" height="212.6"/>
<rect x="459.2" y="425.4" width="304.2" height="212.0"/>
<rect x="459.2" y="637.4" width="304.3" height="212.5"/>
<rect x="460.1" y="849.9" width="304.5" height="212.8"/>
</g>
<g fill="none" stroke="#111" stroke-width="1.5">
<path d="M44.0 116.7h6M348.4 116.7h-6M44.3 241.9h6M348.0 241.9h-6M44.3 267.9h6M348.0 267.9h-6M44.3 321.7h6M348.0 321.7h-6M44.3 348.1h6M348.0 348.1h-6M44.3 374.9h6M348.0 374.9h-6M44.3 401.9h6M348.0 401.9h-6M43.6 499.7h6M348.0 499.7h-6M43.6 571.2h6M348.0 571.2h-6M43.5 748.2h6M347.9 748.2h-6M43.2 925.3h6M347.3 925.3h-6M43.2 996.4h6M347.3 996.4h-6M44.3 294.9h11.5M348.0 294.9h-10M459.2 233.7h6M763.3 233.7h-6M459.2 255.2h6M763.3 255.2h-6M459.2 276.3h6M763.3 276.3h-6M459.2 297.7h6M763.3 297.7h-6M459.2 340.7h6M763.3 340.7h-6M459.2 361.5h6M763.3 361.5h-6M459.2 383.0h6M763.3 383.0h-6M459.2 403.8h6M763.3 403.8h-6M459.2 467.4h6M763.4 467.4h-6M459.2 510.0h6M763.4 510.0h-6M459.2 552.9h6M763.4 552.9h-6M459.2 595.2h6M763.4 595.2h-6M459.2 690.3h6M763.5 690.3h-6M459.2 743.1h6M763.5 743.1h-6M459.2 796.6h6M763.5 796.6h-6M764.6 956.4h-6M459.2 319.0h10.5M763.3 319.0h-10.5M119.8 10.3v5.5M119.8 223.4v-5.5M119.8 428.6v-5.5M119.8 642.2v-5.5M119.8 855.0v-5.5M119.8 1067.5v-5.5M196.0 10.3v5.5M196.0 223.4v-5.5M196.0 428.6v-5.5M196.0 642.2v-5.5M196.0 855.0v-5.5M196.0 1067.5v-5.5M272.0 10.3v5.5M272.0 223.4v-5.5M272.0 428.6v-5.5M272.0 642.2v-5.5M272.0 855.0v-5.5M272.0 1067.5v-5.5M535.6 212.8v5.5M535.6 425.4v-5.5M535.6 637.4v-5.5M535.6 849.9v-5.5M536.0 1062.7v-5.5M611.8 212.8v5.5M611.8 425.4v-5.5M611.8 637.4v-5.5M611.8 849.9v-5.5M612.1999999999999 1062.7v-5.5M688.0 212.8v5.5M688.0 425.4v-5.5M688.0 637.4v-5.5M688.0 849.9v-5.5M688.4 1062.7v-5.5"/>
<path d="M460.1 956.4h6" stroke="#bbb" stroke-width="1.2"/>
</g>
<g font-family='"Liberation Sans", sans-serif' font-size="16.6" fill="#1a1a1a">
<text x="38.6" y="15.0" text-anchor="end">2000</text>
<text x="38.6" y="121.2" text-anchor="end">1000</text>
<text x="38.6" y="226.5" text-anchor="end">0</text>
<text x="38.6" y="275.2" text-anchor="end">600</text>
<text x="38.6" y="328.6" text-anchor="end">400</text>
<text x="38.6" y="381.4" text-anchor="end">200</text>
<text x="38.6" y="433.3" text-anchor="end">0</text>
<text x="38.6" y="506.2" text-anchor="end">200</text>
<text x="38.6" y="578.6" text-anchor="end">100</text>
<text x="38.6" y="647.5" text-anchor="end">0</text>
<text x="38.6" y="754.5" text-anchor="end">100</text>
<text x="38.6" y="860.6" text-anchor="end">0</text>
<text x="38.6" y="930.2" text-anchor="end">200</text>
<text x="38.6" y="1002.2" text-anchor="end">100</text>
<text x="38.6" y="1073.8" text-anchor="end">0</text>
<text x="769.6" y="218.4">100</text>
<text x="770.8" y="261">80</text>
<text x="770.8" y="304.7">60</text>
<text x="770.8" y="346.6">40</text>
<text x="770.8" y="388.8">20</text>
<text x="770.8" y="430.5">0</text>
<text x="770.8" y="472.7">40</text>
<text x="770.8" y="515.6">30</text>
<text x="770.8" y="558.6">20</text>
<text x="770.8" y="598.9">10</text>
<text x="770.8" y="641.8">0</text>
<text x="770.8" y="695.4">300</text>
<text x="770.8" y="749.0">200</text>
<text x="770.8" y="802.5">100</text>
<text x="770.8" y="854.9">0</text>
<text x="770.8" y="960.5">100</text>
<text x="770.8" y="1068.0">0</text>
<text x="44.75" y="1087" text-anchor="middle">0</text>
<text x="115.6" y="1087" text-anchor="middle">10000</text>
<text x="198.5" y="1087" text-anchor="middle">20000</text>
<text x="278.2" y="1087" text-anchor="middle">30000</text>
<text x="458.5" y="1083" text-anchor="middle">0</text>
<text x="536.2" y="1083" text-anchor="middle">10000</text>
<text x="614.8" y="1083" text-anchor="middle">20000</text>
<text x="696.0" y="1083" text-anchor="middle">30000</text>
</g>
<g font-family='"Liberation Sans", sans-serif' font-size="24" fill="#111">
<text x="169.8" y="1120.5">Fe</text>
<text x="598.9" y="1120.4">Fe</text>
</g>
<g font-family='"Liberation Sans", sans-serif' font-size="26" fill="#111">
<text x="55.5" y="48" textLength="23.5" lengthAdjust="spacingAndGlyphs">Zr</text>
<text x="54" y="251.3" textLength="39.5" lengthAdjust="spacingAndGlyphs">Mn</text>
<text x="45.8" y="457.3" textLength="31.5" lengthAdjust="spacingAndGlyphs">Rb</text>
<text x="50.5" y="669.4" textLength="29" lengthAdjust="spacingAndGlyphs">Th</text>
<text x="49.2" y="882.5" textLength="30.3" lengthAdjust="spacingAndGlyphs">Zn</text>
<text x="718.1" y="237.8" textLength="34.6" lengthAdjust="spacingAndGlyphs">Nb</text>
<text x="728.4" y="453.8" textLength="30.9" lengthAdjust="spacingAndGlyphs">Pb</text>
<text x="732.7" y="662.8" textLength="22.3" lengthAdjust="spacingAndGlyphs">Sr</text>
<text x="735.4" y="878.5" textLength="15.8" lengthAdjust="spacingAndGlyphs">Y</text>
</g>
<g>
<path d="M464.6 39.5h26.8M478.1 26v27.6" stroke="#e3141c" stroke-width="5" fill="none"/>
<path d="M464.6 103.5h26.8M478.5 87.4v31.2" stroke="#1212dc" stroke-width="5" fill="none"/>
<path d="M464.6 159.2h26.8M478.3 147v25" stroke="#22ee22" stroke-width="5" fill="none"/>
</g>
<g font-family='"Liberation Sans", sans-serif' font-size="18" fill="#1a1a1a">
<text x="502.5" y="37.4" textLength="212" lengthAdjust="spacingAndGlyphs">Archaeological obsidian</text>
<text x="502.5" y="63" textLength="238.5" lengthAdjust="spacingAndGlyphs">of&#160;&#160;Sierra Madre Occidental</text>
<text x="502.5" y="97" textLength="213" lengthAdjust="spacingAndGlyphs">Archaeological obsidian</text>
<text x="502.5" y="123" textLength="148.5" lengthAdjust="spacingAndGlyphs">of&#160;&#160;Coastal Plains</text>
<text x="505.5" y="153" textLength="174" lengthAdjust="spacingAndGlyphs">Geological obsidian</text>
<text x="505.5" y="179" textLength="142.5" lengthAdjust="spacingAndGlyphs">of Coastal Plains</text>
</g>
</svg></body></html>
